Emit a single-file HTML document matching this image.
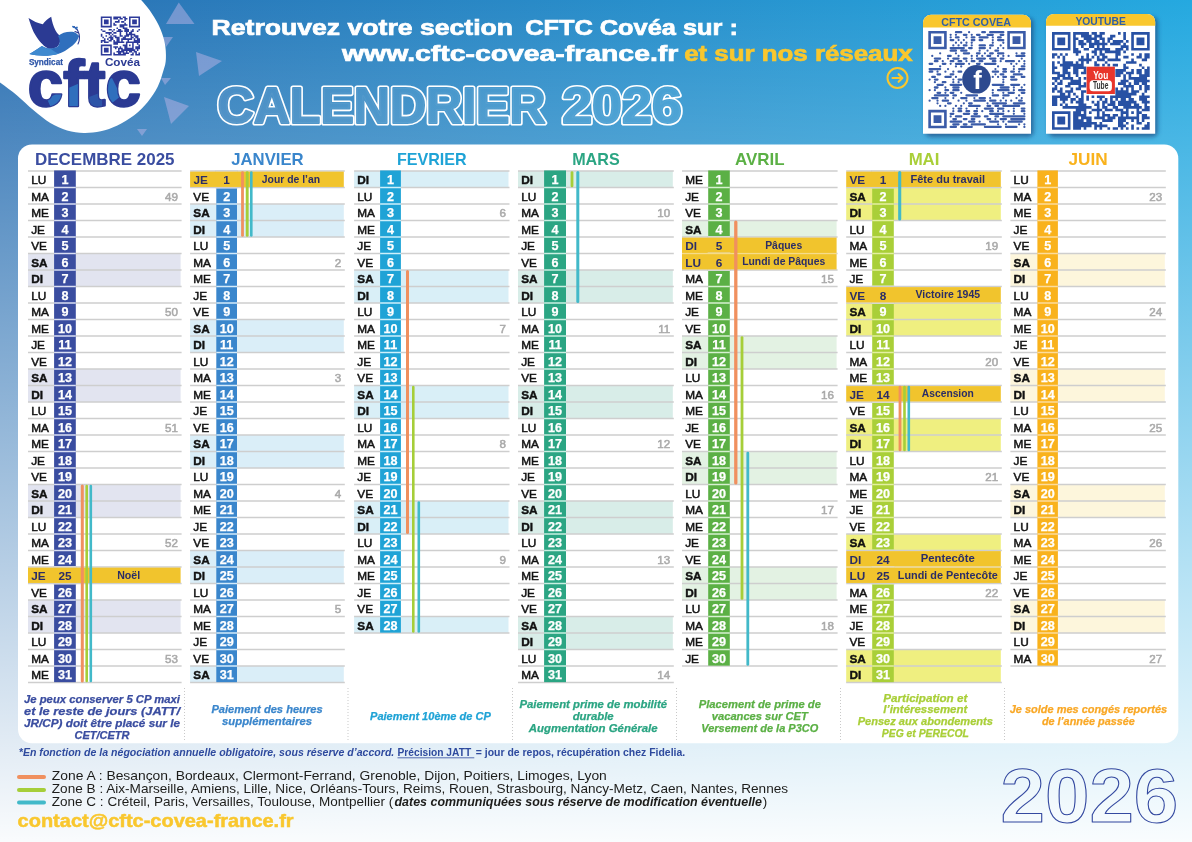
<!DOCTYPE html>
<html lang="fr"><head><meta charset="utf-8"><title>Calendrier 2026 - CFTC Covéa</title>
<style>html,body{margin:0;padding:0;background:#fff}svg{display:block}text{white-space:pre}</style></head>
<body>
<svg width="1192" height="842" viewBox="0 0 1192 842" font-family="'Liberation Sans', sans-serif">
<defs>
<linearGradient id="gh" x1="0" y1="0" x2="1" y2="0"><stop offset="0" stop-color="#2c71b3"/><stop offset="1" stop-color="#25a9e0"/></linearGradient>
<linearGradient id="gv" x1="0" y1="0" x2="0" y2="1"><stop offset="0" stop-color="#fff" stop-opacity="0"/><stop offset="1" stop-color="#fff" stop-opacity="0.975"/></linearGradient>
<linearGradient id="gc" x1="0" y1="0" x2="1" y2="0"><stop offset="0" stop-color="#2b3a93"/><stop offset="0.16" stop-color="#2b3a93"/><stop offset="0.2" stop-color="#2f6fbd"/><stop offset="0.3" stop-color="#2f6fbd"/><stop offset="0.34" stop-color="#2b3a93"/><stop offset="0.44" stop-color="#2b3a93"/><stop offset="0.48" stop-color="#2f6fbd"/><stop offset="0.56" stop-color="#2b3a93"/><stop offset="0.72" stop-color="#2b3a93"/><stop offset="0.76" stop-color="#2f6fbd"/><stop offset="0.84" stop-color="#2f6fbd"/><stop offset="0.88" stop-color="#2b3a93"/><stop offset="1" stop-color="#2b3a93"/></linearGradient>
<filter id="sh" x="-10%" y="-10%" width="125%" height="125%"><feGaussianBlur stdDeviation="2.2"/></filter>
</defs>
<rect width="1192" height="842" fill="url(#gh)"/>
<rect width="1192" height="842" fill="url(#gv)"/>
<polygon points="178.75,2.5 166,24 194.5,24" fill="#b9b4e6" fill-opacity="0.5"/>
<polygon points="196,52 222,61 199,76" fill="#b9b4e6" fill-opacity="0.5"/>
<polygon points="164,97 189,106 171,124" fill="#b9b4e6" fill-opacity="0.5"/>
<polygon points="137,129 147,129 142,136" fill="#b9b4e6" fill-opacity="0.5"/>
<polygon points="161,78 171,78 165,85" fill="#b9b4e6" fill-opacity="0.5"/>
<polygon points="163,37 173,37 166,47" fill="#b9b4e6" fill-opacity="0.5"/>
<path d="M0,0 L141.1,0 C143.9,3.3 146.6,5.8 149.5,10.0 C152.4,14.2 156.2,19.9 158.7,25.2 C161.2,30.5 163.4,36.4 164.6,42.0 C165.8,47.6 166.1,54.0 165.9,58.7 C165.7,63.4 165.0,65.3 163.6,70.0 C162.2,74.7 160.3,81.5 157.7,86.8 C155.0,92.1 151.6,97.2 147.7,101.9 C143.8,106.7 139.2,111.4 134.2,115.3 C129.1,119.2 123.0,122.8 117.4,125.4 C111.8,128.1 106.3,129.9 100.7,131.2 C95.1,132.4 89.5,133.0 83.9,132.9 C78.3,132.8 72.7,132.1 67.1,130.4 C61.5,128.7 55.9,126.2 50.3,122.9 C44.7,119.6 39.2,114.9 33.6,110.3 C28.0,105.7 22.4,99.8 16.8,95.2 C11.2,90.6 5.6,86.8 0.0,82.6 Z" fill="#fff"/>
<path d="M28.5,18.1 C33,21 38,23.5 42.8,24.3 C45,21 48,18.5 51.2,16.8 C52,22 53.5,26.5 55.4,30.2 C57,33 58.5,34.8 60.4,36.1 C61,41 59.5,45 57,47 C54,48.6 51,49 48.7,48.7 C45,47 42.5,44.5 40.3,42 C37.5,38.5 35.5,35.5 33.6,31.9 C31.5,27.5 30,23 28.5,18.1Z" fill="#2b3a93"/>
<path d="M58,36 C62,32.5 68,31 73.8,31.9 C76,32.8 78,34.3 79.2,36.1 C78.5,37.5 77.8,39 77.2,40.3 C75.5,43 73,45.5 70.5,47 C67,50 63,52.3 58.7,53.7 C49,56.5 38,56.2 29.4,54 C34,51.5 38,48.8 41.9,46.1 C47,49.5 53,48.5 57,47 C59.5,45 61,41 58,36Z" fill="#2f6fbd"/>
<path d="M29.4,54 C34,51.5 38,48.8 41.9,46.1 C45,48 48,49 51,49 C53,50.5 56,52.5 58.7,53.7 C49,56.5 38,56.2 29.4,54Z" fill="#3f8ad0"/>
<path d="M78,44 C80,40 80,35 77.5,30 M77.5,30 L74,26.5 M78.5,33 L75,31.5" stroke="#2b3a93" stroke-width="1.1" fill="none" stroke-linecap="round"/>
<ellipse cx="73.5" cy="27" rx="1.6" ry="1" fill="#2f6fbd" transform="rotate(35 73.5 27)"/><ellipse cx="76.5" cy="28" rx="1.6" ry="1" fill="#2f6fbd" transform="rotate(-50 76.5 28)"/>
<text x="28.90" y="65.10" font-size="8.6" fill="#2d55a8" font-weight="700" textLength="34.00" lengthAdjust="spacingAndGlyphs" stroke="#2d55a8" stroke-width="0.25">Syndicat</text>
<text x="104.90" y="66.30" font-size="11.8" fill="#2b3a93" font-weight="700" textLength="35.20" lengthAdjust="spacingAndGlyphs">Covéa</text>
<text x="27.80" y="106.40" font-size="64" fill="#2b3a93" font-weight="700" textLength="113.00" lengthAdjust="spacingAndGlyphs" stroke="#2b3a93" stroke-width="2.4" stroke-linejoin="round">cftc</text>
<clipPath id="cc"><text x="27.8" y="106.4" font-size="64" font-weight="700" textLength="113" lengthAdjust="spacingAndGlyphs" stroke="#000" stroke-width="2.4">cftc</text></clipPath>
<g clip-path="url(#cc)" fill="#2f6fbd"><polygon points="66,89 80,83 80,110 66,110"/><polygon points="47,99 63,90 63,110 52,110"/><polygon points="106,80 112,78 121,96 112,103 106,98"/><polygon points="89,97 102,92 102,110 89,110" fill="#2d55a8"/></g>
<path d="M100.80,16.40h10.98v1.57h-10.98zM113.34,16.40h7.84v1.57h-7.84zM122.75,16.40h3.14v1.57h-3.14zM129.02,16.40h10.98v1.57h-10.98zM100.80,17.97h1.57v1.57h-1.57zM110.21,17.97h1.57v1.57h-1.57zM113.34,17.97h4.70v1.57h-4.70zM119.62,17.97h3.14v1.57h-3.14zM124.32,17.97h3.14v1.57h-3.14zM129.02,17.97h1.57v1.57h-1.57zM138.43,17.97h1.57v1.57h-1.57zM100.80,19.54h1.57v1.57h-1.57zM103.94,19.54h4.70v1.57h-4.70zM110.21,19.54h1.57v1.57h-1.57zM118.05,19.54h1.57v1.57h-1.57zM124.32,19.54h1.57v1.57h-1.57zM129.02,19.54h1.57v1.57h-1.57zM132.16,19.54h4.70v1.57h-4.70zM138.43,19.54h1.57v1.57h-1.57zM100.80,21.10h1.57v1.57h-1.57zM103.94,21.10h4.70v1.57h-4.70zM110.21,21.10h1.57v1.57h-1.57zM114.91,21.10h4.70v1.57h-4.70zM121.18,21.10h3.14v1.57h-3.14zM129.02,21.10h1.57v1.57h-1.57zM132.16,21.10h4.70v1.57h-4.70zM138.43,21.10h1.57v1.57h-1.57zM100.80,22.67h1.57v1.57h-1.57zM103.94,22.67h4.70v1.57h-4.70zM110.21,22.67h1.57v1.57h-1.57zM113.34,22.67h1.57v1.57h-1.57zM124.32,22.67h1.57v1.57h-1.57zM129.02,22.67h1.57v1.57h-1.57zM132.16,22.67h4.70v1.57h-4.70zM138.43,22.67h1.57v1.57h-1.57zM100.80,24.24h1.57v1.57h-1.57zM110.21,24.24h1.57v1.57h-1.57zM113.34,24.24h3.14v1.57h-3.14zM119.62,24.24h7.84v1.57h-7.84zM129.02,24.24h1.57v1.57h-1.57zM138.43,24.24h1.57v1.57h-1.57zM100.80,25.81h10.98v1.57h-10.98zM119.62,25.81h4.70v1.57h-4.70zM129.02,25.81h10.98v1.57h-10.98zM116.48,27.38h1.57v1.57h-1.57zM122.75,27.38h4.70v1.57h-4.70zM100.80,28.94h1.57v1.57h-1.57zM108.64,28.94h3.14v1.57h-3.14zM113.34,28.94h1.57v1.57h-1.57zM118.05,28.94h3.14v1.57h-3.14zM124.32,28.94h4.70v1.57h-4.70zM132.16,28.94h1.57v1.57h-1.57zM138.43,28.94h1.57v1.57h-1.57zM102.37,30.51h3.14v1.57h-3.14zM111.78,30.51h1.57v1.57h-1.57zM116.48,30.51h6.27v1.57h-6.27zM124.32,30.51h4.70v1.57h-4.70zM130.59,30.51h3.14v1.57h-3.14zM136.86,30.51h1.57v1.57h-1.57zM105.50,32.08h6.27v1.57h-6.27zM113.34,32.08h3.14v1.57h-3.14zM119.62,32.08h1.57v1.57h-1.57zM125.89,32.08h1.57v1.57h-1.57zM129.02,32.08h3.14v1.57h-3.14zM100.80,33.65h1.57v1.57h-1.57zM108.64,33.65h1.57v1.57h-1.57zM111.78,33.65h1.57v1.57h-1.57zM119.62,33.65h1.57v1.57h-1.57zM125.89,33.65h9.41v1.57h-9.41zM100.80,35.22h1.57v1.57h-1.57zM105.50,35.22h1.57v1.57h-1.57zM110.21,35.22h1.57v1.57h-1.57zM113.34,35.22h3.14v1.57h-3.14zM119.62,35.22h3.14v1.57h-3.14zM124.32,35.22h4.70v1.57h-4.70zM130.59,35.22h1.57v1.57h-1.57zM133.73,35.22h4.70v1.57h-4.70zM102.37,36.78h1.57v1.57h-1.57zM108.64,36.78h4.70v1.57h-4.70zM114.91,36.78h4.70v1.57h-4.70zM122.75,36.78h3.14v1.57h-3.14zM130.59,36.78h3.14v1.57h-3.14zM135.30,36.78h3.14v1.57h-3.14zM103.94,38.35h1.57v1.57h-1.57zM107.07,38.35h1.57v1.57h-1.57zM110.21,38.35h3.14v1.57h-3.14zM116.48,38.35h3.14v1.57h-3.14zM121.18,38.35h10.98v1.57h-10.98zM133.73,38.35h1.57v1.57h-1.57zM136.86,38.35h3.14v1.57h-3.14zM100.80,39.92h4.70v1.57h-4.70zM108.64,39.92h3.14v1.57h-3.14zM113.34,39.92h1.57v1.57h-1.57zM116.48,39.92h3.14v1.57h-3.14zM121.18,39.92h1.57v1.57h-1.57zM127.46,39.92h1.57v1.57h-1.57zM133.73,39.92h6.27v1.57h-6.27zM100.80,41.49h1.57v1.57h-1.57zM103.94,41.49h4.70v1.57h-4.70zM113.34,41.49h10.98v1.57h-10.98zM125.89,41.49h14.11v1.57h-14.11zM113.34,43.06h4.70v1.57h-4.70zM125.89,43.06h1.57v1.57h-1.57zM132.16,43.06h1.57v1.57h-1.57zM136.86,43.06h1.57v1.57h-1.57zM100.80,44.62h10.98v1.57h-10.98zM122.75,44.62h4.70v1.57h-4.70zM129.02,44.62h1.57v1.57h-1.57zM132.16,44.62h1.57v1.57h-1.57zM138.43,44.62h1.57v1.57h-1.57zM100.80,46.19h1.57v1.57h-1.57zM110.21,46.19h1.57v1.57h-1.57zM113.34,46.19h4.70v1.57h-4.70zM119.62,46.19h1.57v1.57h-1.57zM124.32,46.19h3.14v1.57h-3.14zM132.16,46.19h1.57v1.57h-1.57zM135.30,46.19h4.70v1.57h-4.70zM100.80,47.76h1.57v1.57h-1.57zM103.94,47.76h4.70v1.57h-4.70zM110.21,47.76h1.57v1.57h-1.57zM114.91,47.76h1.57v1.57h-1.57zM118.05,47.76h4.70v1.57h-4.70zM124.32,47.76h9.41v1.57h-9.41zM135.30,47.76h4.70v1.57h-4.70zM100.80,49.33h1.57v1.57h-1.57zM103.94,49.33h4.70v1.57h-4.70zM110.21,49.33h1.57v1.57h-1.57zM118.05,49.33h1.57v1.57h-1.57zM121.18,49.33h14.11v1.57h-14.11zM136.86,49.33h1.57v1.57h-1.57zM100.80,50.90h1.57v1.57h-1.57zM103.94,50.90h4.70v1.57h-4.70zM110.21,50.90h1.57v1.57h-1.57zM116.48,50.90h7.84v1.57h-7.84zM125.89,50.90h1.57v1.57h-1.57zM129.02,50.90h3.14v1.57h-3.14zM133.73,50.90h3.14v1.57h-3.14zM100.80,52.46h1.57v1.57h-1.57zM110.21,52.46h1.57v1.57h-1.57zM113.34,52.46h1.57v1.57h-1.57zM118.05,52.46h3.14v1.57h-3.14zM122.75,52.46h6.27v1.57h-6.27zM132.16,52.46h1.57v1.57h-1.57zM135.30,52.46h1.57v1.57h-1.57zM138.43,52.46h1.57v1.57h-1.57zM100.80,54.03h10.98v1.57h-10.98zM113.34,54.03h12.54v1.57h-12.54zM130.59,54.03h3.14v1.57h-3.14zM135.30,54.03h4.70v1.57h-4.70z" fill="#2d3a9a"/>
<text x="211.60" y="35.00" font-size="22" fill="#fff" font-weight="700" textLength="301.50" lengthAdjust="spacingAndGlyphs" stroke="#fff" stroke-width="0.7">Retrouvez votre section</text>
<text x="525.20" y="35.00" font-size="22" fill="#fff" font-weight="700" textLength="212.70" lengthAdjust="spacingAndGlyphs" stroke="#fff" stroke-width="0.7">CFTC Covéa sur :</text>
<text x="342.00" y="61.20" font-size="22" fill="#fff" font-weight="700" textLength="336.30" lengthAdjust="spacingAndGlyphs" stroke="#fff" stroke-width="0.7">www.cftc-covea-france.fr</text>
<text x="684.20" y="61.20" font-size="22" fill="#f9c72e" font-weight="700" textLength="228.50" lengthAdjust="spacingAndGlyphs" stroke="#f9c72e" stroke-width="0.7">et sur nos réseaux</text>
<mask id="mc1" maskUnits="userSpaceOnUse" x="200" y="70" width="360" height="70"><text x="217.6" y="123.2" font-size="49.5" font-weight="700" textLength="328.0" lengthAdjust="spacingAndGlyphs" stroke-linejoin="round" fill="#fff" stroke="#fff" stroke-width="5.2">CALENDRIER</text><text x="217.6" y="123.2" font-size="49.5" font-weight="700" textLength="328.0" lengthAdjust="spacingAndGlyphs" stroke-linejoin="round" fill="#000" stroke="#000" stroke-width="2">CALENDRIER</text></mask>
<text x="217.6" y="123.2" font-size="49.5" font-weight="700" textLength="328.0" lengthAdjust="spacingAndGlyphs" stroke-linejoin="round" fill="#fff" fill-opacity="0.05" stroke="#fff" stroke-opacity="0.05" stroke-width="2">CALENDRIER</text>
<rect x="200" y="70" width="360" height="70" fill="#fff" mask="url(#mc1)"/>
<mask id="mc2" maskUnits="userSpaceOnUse" x="550" y="70" width="150" height="70"><text x="562.2" y="123.2" font-size="49.5" font-weight="700" textLength="119.6" lengthAdjust="spacingAndGlyphs" stroke-linejoin="round" fill="#fff" stroke="#fff" stroke-width="5.2">2026</text><text x="562.2" y="123.2" font-size="49.5" font-weight="700" textLength="119.6" lengthAdjust="spacingAndGlyphs" stroke-linejoin="round" fill="#000" stroke="#000" stroke-width="2">2026</text></mask>
<text x="562.2" y="123.2" font-size="49.5" font-weight="700" textLength="119.6" lengthAdjust="spacingAndGlyphs" stroke-linejoin="round" fill="#fff" fill-opacity="0.05" stroke="#fff" stroke-opacity="0.05" stroke-width="2">2026</text>
<rect x="550" y="70" width="150" height="70" fill="#fff" mask="url(#mc2)"/>
<circle cx="897.5" cy="78" r="10" fill="none" stroke="#f9c72e" stroke-width="2"/>
<path d="M892.5,78 H902 M898.6,74.2 L902.4,78 L898.6,81.8" fill="none" stroke="#f9c72e" stroke-width="2.1" stroke-linecap="round" stroke-linejoin="round"/>
<rect x="925.5" y="17.8" width="108" height="119.00000000000001" rx="5" fill="#174a80" fill-opacity="0.7" filter="url(#sh)"/>
<path d="M923,133.8 V22.8 a8,8 0 0 1 8,-8 H1023 a8,8 0 0 1 8,8 V133.8 Z" fill="#fff"/>
<path d="M923,27.6 V22.8 a8,8 0 0 1 8,-8 H1023 a8,8 0 0 1 8,8 V27.6 Z" fill="#f9c72e"/>
<text x="941.20" y="25.80" font-size="11.2" fill="#2f5fa5" font-weight="700" textLength="69.80" lengthAdjust="spacingAndGlyphs">CFTC COVEA</text>
<rect x="1048.5" y="17" width="109.20000000000005" height="119.80000000000001" rx="5" fill="#174a80" fill-opacity="0.7" filter="url(#sh)"/>
<path d="M1046,133.8 V22 a8,8 0 0 1 8,-8 H1147.2 a8,8 0 0 1 8,8 V133.8 Z" fill="#fff"/>
<path d="M1046,25.8 V22 a8,8 0 0 1 8,-8 H1147.2 a8,8 0 0 1 8,8 V25.8 Z" fill="#f9c72e"/>
<text x="1075.40" y="24.90" font-size="11.2" fill="#2f5fa5" font-weight="700" textLength="50.40" lengthAdjust="spacingAndGlyphs">YOUTUBE</text>
<path d="M928.30,30.90h18.43v2.63h-18.43zM1007.27,30.90h18.43v2.63h-18.43zM928.30,33.53h2.63v2.63h-2.63zM944.09,33.53h2.63v2.63h-2.63zM1007.27,33.53h2.63v2.63h-2.63zM1023.07,33.53h2.63v2.63h-2.63zM928.30,36.16h2.63v2.63h-2.63zM933.56,36.16h7.90v2.63h-7.90zM944.09,36.16h2.63v2.63h-2.63zM1007.27,36.16h2.63v2.63h-2.63zM1012.54,36.16h7.90v2.63h-7.90zM1023.07,36.16h2.63v2.63h-2.63zM928.30,38.80h2.63v2.63h-2.63zM933.56,38.80h7.90v2.63h-7.90zM944.09,38.80h2.63v2.63h-2.63zM1007.27,38.80h2.63v2.63h-2.63zM1012.54,38.80h7.90v2.63h-7.90zM1023.07,38.80h2.63v2.63h-2.63zM928.30,41.43h2.63v2.63h-2.63zM933.56,41.43h7.90v2.63h-7.90zM944.09,41.43h2.63v2.63h-2.63zM1007.27,41.43h2.63v2.63h-2.63zM1012.54,41.43h7.90v2.63h-7.90zM1023.07,41.43h2.63v2.63h-2.63zM928.30,44.06h2.63v2.63h-2.63zM944.09,44.06h2.63v2.63h-2.63zM1007.27,44.06h2.63v2.63h-2.63zM1023.07,44.06h2.63v2.63h-2.63zM928.30,46.69h18.43v2.63h-18.43zM1007.27,46.69h18.43v2.63h-18.43zM928.30,109.87h18.43v2.63h-18.43zM928.30,112.51h2.63v2.63h-2.63zM944.09,112.51h2.63v2.63h-2.63zM928.30,115.14h2.63v2.63h-2.63zM933.56,115.14h7.90v2.63h-7.90zM944.09,115.14h2.63v2.63h-2.63zM928.30,117.77h2.63v2.63h-2.63zM933.56,117.77h7.90v2.63h-7.90zM944.09,117.77h2.63v2.63h-2.63zM928.30,120.40h2.63v2.63h-2.63zM933.56,120.40h7.90v2.63h-7.90zM944.09,120.40h2.63v2.63h-2.63zM928.30,123.04h2.63v2.63h-2.63zM944.09,123.04h2.63v2.63h-2.63zM928.30,125.67h18.43v2.63h-18.43z" fill="#3a5ba8"/>
<path d="M955.94,32.22h5.27M969.10,32.22h0.01M982.26,32.22h2.64M990.16,32.22h13.17M950.68,34.85h0.01M955.94,34.85h0.01M963.84,34.85h2.64M971.74,34.85h0.01M977.00,34.85h2.64M987.53,34.85h5.27M1000.69,34.85h2.64M950.68,37.48h0.01M955.94,37.48h2.64M966.47,37.48h0.01M971.74,37.48h2.64M979.63,37.48h7.91M992.79,37.48h0.01M998.06,37.48h2.64M950.68,40.11h2.64M958.57,40.11h0.01M963.84,40.11h0.01M971.74,40.11h2.64M979.63,40.11h2.64M992.79,40.11h0.01M998.06,40.11h5.27M955.94,42.75h0.01M961.21,42.75h0.01M966.47,42.75h0.01M971.74,42.75h0.01M992.79,42.75h0.01M1003.32,42.75h0.01M953.31,45.38h0.01M958.57,45.38h0.01M963.84,45.38h2.64M971.74,45.38h0.01M979.63,45.38h5.27M990.16,45.38h2.64M1000.69,45.38h0.01M950.68,48.01h13.17M969.10,48.01h2.64M979.63,48.01h5.27M990.16,48.01h0.01M998.06,48.01h0.01M1003.32,48.01h0.01M950.68,50.64h5.27M961.21,50.64h5.27M979.63,50.64h0.01M987.53,50.64h0.01M995.43,50.64h2.64M940.15,53.28h0.01M955.94,53.28h0.01M963.84,53.28h5.27M977.00,53.28h2.64M984.90,53.28h0.01M990.16,53.28h2.64M998.06,53.28h5.27M1016.49,53.28h0.01M1021.75,53.28h2.64M932.25,55.91h0.01M948.04,55.91h2.64M958.57,55.91h0.01M971.74,55.91h0.01M977.00,55.91h0.01M982.26,55.91h0.01M987.53,55.91h2.64M998.06,55.91h0.01M1003.32,55.91h0.01M1008.59,55.91h0.01M1016.49,55.91h7.91M934.88,58.54h5.27M948.04,58.54h0.01M953.31,58.54h5.27M963.84,58.54h2.64M971.74,58.54h0.01M977.00,58.54h7.91M990.16,58.54h5.27M1000.69,58.54h2.64M1021.75,58.54h0.01M934.88,61.17h2.64M942.78,61.17h0.01M950.68,61.17h2.64M958.57,61.17h2.64M966.47,61.17h0.01M971.74,61.17h2.64M979.63,61.17h2.64M992.79,61.17h2.64M1000.69,61.17h0.01M1005.96,61.17h7.91M1019.12,61.17h0.01M1024.38,61.17h0.01M929.62,63.81h2.64M942.78,63.81h2.64M950.68,63.81h0.01M955.94,63.81h7.91M969.10,63.81h0.01M977.00,63.81h2.64M984.90,63.81h10.54M1011.22,63.81h0.01M1016.49,63.81h0.01M1024.38,63.81h0.01M940.15,66.44h0.01M955.94,66.44h0.01M961.21,66.44h0.01M998.06,66.44h0.01M1013.85,66.44h0.01M1021.75,66.44h2.64M929.62,69.07h10.54M948.04,69.07h0.01M995.43,69.07h0.01M1003.32,69.07h2.64M1013.85,69.07h0.01M1019.12,69.07h5.27M929.62,71.70h2.64M937.51,71.70h0.01M945.41,71.70h0.01M953.31,71.70h0.01M958.57,71.70h2.64M992.79,71.70h5.27M1003.32,71.70h2.64M1011.22,71.70h2.64M1019.12,71.70h0.01M937.51,74.34h2.64M950.68,74.34h2.64M995.43,74.34h0.01M1000.69,74.34h2.64M1013.85,74.34h7.91M932.25,76.97h2.64M945.41,76.97h5.27M955.94,76.97h0.01M992.79,76.97h0.01M998.06,76.97h0.01M1003.32,76.97h2.64M1011.22,76.97h2.64M1021.75,76.97h2.64M929.62,79.60h0.01M934.88,79.60h2.64M953.31,79.60h0.01M958.57,79.60h2.64M1003.32,79.60h0.01M1011.22,79.60h5.27M934.88,82.23h0.01M942.78,82.23h2.64M953.31,82.23h0.01M958.57,82.23h0.01M1003.32,82.23h0.01M937.51,84.86h5.27M950.68,84.86h10.54M992.79,84.86h10.54M1011.22,84.86h7.91M1024.38,84.86h0.01M934.88,87.50h2.64M945.41,87.50h0.01M953.31,87.50h5.27M1000.69,87.50h7.91M1013.85,87.50h0.01M1021.75,87.50h0.01M929.62,90.13h0.01M934.88,90.13h0.01M945.41,90.13h2.64M953.31,90.13h5.27M992.79,90.13h0.01M998.06,90.13h10.54M1013.85,90.13h0.01M1019.12,90.13h5.27M937.51,92.76h2.64M945.41,92.76h0.01M950.68,92.76h2.64M961.21,92.76h0.01M992.79,92.76h0.01M1003.32,92.76h0.01M1008.59,92.76h5.27M1021.75,92.76h2.64M934.88,95.39h13.17M953.31,95.39h2.64M966.47,95.39h10.54M992.79,95.39h5.27M1003.32,95.39h5.27M1019.12,95.39h0.01M932.25,98.03h5.27M945.41,98.03h0.01M953.31,98.03h0.01M961.21,98.03h5.27M974.37,98.03h0.01M979.63,98.03h5.27M990.16,98.03h0.01M1003.32,98.03h0.01M1016.49,98.03h0.01M1021.75,98.03h0.01M929.62,100.66h0.01M937.51,100.66h0.01M942.78,100.66h5.27M958.57,100.66h0.01M966.47,100.66h0.01M974.37,100.66h10.54M990.16,100.66h5.27M1000.69,100.66h0.01M1005.96,100.66h0.01M1011.22,100.66h0.01M1019.12,100.66h2.64M937.51,103.29h0.01M948.04,103.29h2.64M963.84,103.29h0.01M969.10,103.29h2.64M987.53,103.29h0.01M992.79,103.29h13.17M1013.85,103.29h10.54M940.15,105.92h0.01M945.41,105.92h0.01M955.94,105.92h0.01M961.21,105.92h0.01M969.10,105.92h10.54M987.53,105.92h2.64M995.43,105.92h2.64M1003.32,105.92h15.80M953.31,108.56h0.01M958.57,108.56h2.64M966.47,108.56h0.01M977.00,108.56h0.01M984.90,108.56h7.91M998.06,108.56h5.27M1013.85,108.56h0.01M1021.75,108.56h2.64M953.31,111.19h0.01M958.57,111.19h2.64M966.47,111.19h2.64M974.37,111.19h2.64M982.26,111.19h0.01M990.16,111.19h2.64M998.06,111.19h0.01M1003.32,111.19h0.01M1008.59,111.19h0.01M1013.85,111.19h0.01M1021.75,111.19h2.64M950.68,113.82h2.64M963.84,113.82h5.27M974.37,113.82h2.64M990.16,113.82h13.17M1013.85,113.82h0.01M1024.38,113.82h0.01M950.68,116.45h0.01M955.94,116.45h5.27M971.74,116.45h7.91M984.90,116.45h2.64M995.43,116.45h2.64M1003.32,116.45h21.07M953.31,119.09h2.64M963.84,119.09h2.64M971.74,119.09h2.64M987.53,119.09h2.64M995.43,119.09h0.01M1000.69,119.09h5.27M1011.22,119.09h13.17M950.68,121.72h10.54M969.10,121.72h5.27M979.63,121.72h0.01M990.16,121.72h7.91M1003.32,121.72h0.01M1008.59,121.72h13.17M953.31,124.35h5.27M963.84,124.35h2.64M971.74,124.35h13.17M998.06,124.35h0.01M1005.96,124.35h0.01M1019.12,124.35h0.01M1024.38,124.35h0.01M950.68,126.98h5.27M961.21,126.98h10.54M984.90,126.98h15.80M1005.96,126.98h10.54M1024.38,126.98h0.01" stroke="#3a5ba8" stroke-width="2.26" stroke-linecap="round" fill="none"/>
<circle cx="976.5" cy="79.3" r="14.3" fill="#2d4a8f"/>
<text x="977.60" y="88.70" font-size="25.5" fill="#fff" font-weight="700" text-anchor="middle">f</text>
<path d="M1052.00,32.10h18.48v2.64h-18.48zM1073.12,32.10h15.84v2.64h-15.84zM1091.61,32.10h5.28v2.64h-5.28zM1099.53,32.10h5.28v2.64h-5.28zM1118.01,32.10h2.64v2.64h-2.64zM1123.29,32.10h2.64v2.64h-2.64zM1131.22,32.10h18.48v2.64h-18.48zM1052.00,34.74h2.64v2.64h-2.64zM1067.84,34.74h2.64v2.64h-2.64zM1073.12,34.74h2.64v2.64h-2.64zM1081.05,34.74h10.56v2.64h-10.56zM1094.25,34.74h7.92v2.64h-7.92zM1110.09,34.74h5.28v2.64h-5.28zM1123.29,34.74h2.64v2.64h-2.64zM1131.22,34.74h2.64v2.64h-2.64zM1147.06,34.74h2.64v2.64h-2.64zM1052.00,37.38h2.64v2.64h-2.64zM1057.28,37.38h7.92v2.64h-7.92zM1067.84,37.38h2.64v2.64h-2.64zM1073.12,37.38h5.28v2.64h-5.28zM1083.69,37.38h13.20v2.64h-13.20zM1099.53,37.38h5.28v2.64h-5.28zM1107.45,37.38h5.28v2.64h-5.28zM1123.29,37.38h2.64v2.64h-2.64zM1131.22,37.38h2.64v2.64h-2.64zM1136.50,37.38h7.92v2.64h-7.92zM1147.06,37.38h2.64v2.64h-2.64zM1052.00,40.02h2.64v2.64h-2.64zM1057.28,40.02h7.92v2.64h-7.92zM1067.84,40.02h2.64v2.64h-2.64zM1073.12,40.02h2.64v2.64h-2.64zM1078.41,40.02h5.28v2.64h-5.28zM1086.33,40.02h5.28v2.64h-5.28zM1094.25,40.02h5.28v2.64h-5.28zM1102.17,40.02h2.64v2.64h-2.64zM1107.45,40.02h2.64v2.64h-2.64zM1112.73,40.02h10.56v2.64h-10.56zM1125.94,40.02h2.64v2.64h-2.64zM1131.22,40.02h2.64v2.64h-2.64zM1136.50,40.02h7.92v2.64h-7.92zM1147.06,40.02h2.64v2.64h-2.64zM1052.00,42.66h2.64v2.64h-2.64zM1057.28,42.66h7.92v2.64h-7.92zM1067.84,42.66h2.64v2.64h-2.64zM1073.12,42.66h2.64v2.64h-2.64zM1078.41,42.66h7.92v2.64h-7.92zM1088.97,42.66h18.48v2.64h-18.48zM1110.09,42.66h10.56v2.64h-10.56zM1123.29,42.66h2.64v2.64h-2.64zM1131.22,42.66h2.64v2.64h-2.64zM1136.50,42.66h7.92v2.64h-7.92zM1147.06,42.66h2.64v2.64h-2.64zM1052.00,45.30h2.64v2.64h-2.64zM1067.84,45.30h2.64v2.64h-2.64zM1073.12,45.30h2.64v2.64h-2.64zM1081.05,45.30h2.64v2.64h-2.64zM1088.97,45.30h5.28v2.64h-5.28zM1096.89,45.30h2.64v2.64h-2.64zM1102.17,45.30h2.64v2.64h-2.64zM1120.65,45.30h7.92v2.64h-7.92zM1131.22,45.30h2.64v2.64h-2.64zM1147.06,45.30h2.64v2.64h-2.64zM1052.00,47.94h18.48v2.64h-18.48zM1073.12,47.94h5.28v2.64h-5.28zM1083.69,47.94h5.28v2.64h-5.28zM1094.25,47.94h15.84v2.64h-15.84zM1115.37,47.94h7.92v2.64h-7.92zM1125.94,47.94h2.64v2.64h-2.64zM1131.22,47.94h18.48v2.64h-18.48zM1073.12,50.58h7.92v2.64h-7.92zM1091.61,50.58h5.28v2.64h-5.28zM1099.53,50.58h2.64v2.64h-2.64zM1104.81,50.58h15.84v2.64h-15.84zM1123.29,50.58h2.64v2.64h-2.64zM1052.00,53.22h5.28v2.64h-5.28zM1059.92,53.22h2.64v2.64h-2.64zM1065.20,53.22h2.64v2.64h-2.64zM1075.76,53.22h2.64v2.64h-2.64zM1086.33,53.22h2.64v2.64h-2.64zM1094.25,53.22h2.64v2.64h-2.64zM1099.53,53.22h5.28v2.64h-5.28zM1115.37,53.22h5.28v2.64h-5.28zM1131.22,53.22h2.64v2.64h-2.64zM1139.14,53.22h2.64v2.64h-2.64zM1144.42,53.22h5.28v2.64h-5.28zM1052.00,55.86h2.64v2.64h-2.64zM1057.28,55.86h2.64v2.64h-2.64zM1062.56,55.86h2.64v2.64h-2.64zM1081.05,55.86h2.64v2.64h-2.64zM1086.33,55.86h2.64v2.64h-2.64zM1091.61,55.86h2.64v2.64h-2.64zM1096.89,55.86h2.64v2.64h-2.64zM1102.17,55.86h5.28v2.64h-5.28zM1115.37,55.86h2.64v2.64h-2.64zM1123.29,55.86h5.28v2.64h-5.28zM1136.50,55.86h5.28v2.64h-5.28zM1144.42,55.86h5.28v2.64h-5.28zM1062.56,58.51h2.64v2.64h-2.64zM1078.41,58.51h13.20v2.64h-13.20zM1096.89,58.51h7.92v2.64h-7.92zM1107.45,58.51h13.20v2.64h-13.20zM1131.22,58.51h2.64v2.64h-2.64zM1141.78,58.51h5.28v2.64h-5.28zM1052.00,61.15h2.64v2.64h-2.64zM1057.28,61.15h2.64v2.64h-2.64zM1062.56,61.15h10.56v2.64h-10.56zM1075.76,61.15h2.64v2.64h-2.64zM1081.05,61.15h2.64v2.64h-2.64zM1086.33,61.15h2.64v2.64h-2.64zM1094.25,61.15h2.64v2.64h-2.64zM1104.81,61.15h2.64v2.64h-2.64zM1125.94,61.15h10.56v2.64h-10.56zM1052.00,63.79h2.64v2.64h-2.64zM1059.92,63.79h23.76v2.64h-23.76zM1094.25,63.79h5.28v2.64h-5.28zM1102.17,63.79h2.64v2.64h-2.64zM1107.45,63.79h2.64v2.64h-2.64zM1112.73,63.79h5.28v2.64h-5.28zM1123.29,63.79h2.64v2.64h-2.64zM1139.14,63.79h2.64v2.64h-2.64zM1052.00,66.43h5.28v2.64h-5.28zM1062.56,66.43h7.92v2.64h-7.92zM1073.12,66.43h13.20v2.64h-13.20zM1123.29,66.43h5.28v2.64h-5.28zM1141.78,66.43h2.64v2.64h-2.64zM1147.06,66.43h2.64v2.64h-2.64zM1052.00,69.07h2.64v2.64h-2.64zM1062.56,69.07h5.28v2.64h-5.28zM1073.12,69.07h5.28v2.64h-5.28zM1083.69,69.07h2.64v2.64h-2.64zM1115.37,69.07h10.56v2.64h-10.56zM1131.22,69.07h2.64v2.64h-2.64zM1136.50,69.07h5.28v2.64h-5.28zM1144.42,69.07h5.28v2.64h-5.28zM1052.00,71.71h7.92v2.64h-7.92zM1062.56,71.71h7.92v2.64h-7.92zM1073.12,71.71h5.28v2.64h-5.28zM1081.05,71.71h5.28v2.64h-5.28zM1115.37,71.71h7.92v2.64h-7.92zM1125.94,71.71h7.92v2.64h-7.92zM1136.50,71.71h5.28v2.64h-5.28zM1144.42,71.71h5.28v2.64h-5.28zM1057.28,74.35h7.92v2.64h-7.92zM1067.84,74.35h2.64v2.64h-2.64zM1075.76,74.35h2.64v2.64h-2.64zM1115.37,74.35h5.28v2.64h-5.28zM1123.29,74.35h2.64v2.64h-2.64zM1128.58,74.35h2.64v2.64h-2.64zM1139.14,74.35h10.56v2.64h-10.56zM1052.00,76.99h7.92v2.64h-7.92zM1062.56,76.99h10.56v2.64h-10.56zM1078.41,76.99h2.64v2.64h-2.64zM1083.69,76.99h2.64v2.64h-2.64zM1123.29,76.99h2.64v2.64h-2.64zM1128.58,76.99h18.48v2.64h-18.48zM1054.64,79.63h2.64v2.64h-2.64zM1059.92,79.63h2.64v2.64h-2.64zM1070.48,79.63h10.56v2.64h-10.56zM1120.65,79.63h7.92v2.64h-7.92zM1133.86,79.63h15.84v2.64h-15.84zM1052.00,82.27h2.64v2.64h-2.64zM1057.28,82.27h5.28v2.64h-5.28zM1067.84,82.27h13.20v2.64h-13.20zM1083.69,82.27h2.64v2.64h-2.64zM1118.01,82.27h7.92v2.64h-7.92zM1128.58,82.27h2.64v2.64h-2.64zM1133.86,82.27h5.28v2.64h-5.28zM1141.78,82.27h5.28v2.64h-5.28zM1054.64,84.91h2.64v2.64h-2.64zM1065.20,84.91h5.28v2.64h-5.28zM1078.41,84.91h7.92v2.64h-7.92zM1123.29,84.91h10.56v2.64h-10.56zM1139.14,84.91h2.64v2.64h-2.64zM1144.42,84.91h5.28v2.64h-5.28zM1052.00,87.55h5.28v2.64h-5.28zM1059.92,87.55h2.64v2.64h-2.64zM1070.48,87.55h2.64v2.64h-2.64zM1075.76,87.55h5.28v2.64h-5.28zM1115.37,87.55h2.64v2.64h-2.64zM1120.65,87.55h2.64v2.64h-2.64zM1125.94,87.55h2.64v2.64h-2.64zM1131.22,87.55h2.64v2.64h-2.64zM1139.14,87.55h2.64v2.64h-2.64zM1144.42,87.55h5.28v2.64h-5.28zM1052.00,90.19h2.64v2.64h-2.64zM1057.28,90.19h5.28v2.64h-5.28zM1065.20,90.19h7.92v2.64h-7.92zM1081.05,90.19h5.28v2.64h-5.28zM1115.37,90.19h13.20v2.64h-13.20zM1131.22,90.19h7.92v2.64h-7.92zM1144.42,90.19h2.64v2.64h-2.64zM1059.92,92.83h5.28v2.64h-5.28zM1067.84,92.83h2.64v2.64h-2.64zM1073.12,92.83h2.64v2.64h-2.64zM1081.05,92.83h2.64v2.64h-2.64zM1115.37,92.83h21.12v2.64h-21.12zM1141.78,92.83h2.64v2.64h-2.64zM1052.00,95.47h18.48v2.64h-18.48zM1075.76,95.47h2.64v2.64h-2.64zM1081.05,95.47h2.64v2.64h-2.64zM1086.33,95.47h2.64v2.64h-2.64zM1091.61,95.47h2.64v2.64h-2.64zM1096.89,95.47h7.92v2.64h-7.92zM1110.09,95.47h21.12v2.64h-21.12zM1139.14,95.47h10.56v2.64h-10.56zM1052.00,98.11h5.28v2.64h-5.28zM1059.92,98.11h7.92v2.64h-7.92zM1070.48,98.11h5.28v2.64h-5.28zM1078.41,98.11h5.28v2.64h-5.28zM1086.33,98.11h2.64v2.64h-2.64zM1099.53,98.11h2.64v2.64h-2.64zM1104.81,98.11h2.64v2.64h-2.64zM1110.09,98.11h2.64v2.64h-2.64zM1115.37,98.11h2.64v2.64h-2.64zM1120.65,98.11h5.28v2.64h-5.28zM1128.58,98.11h5.28v2.64h-5.28zM1139.14,98.11h7.92v2.64h-7.92zM1052.00,100.75h5.28v2.64h-5.28zM1062.56,100.75h2.64v2.64h-2.64zM1070.48,100.75h2.64v2.64h-2.64zM1075.76,100.75h7.92v2.64h-7.92zM1091.61,100.75h2.64v2.64h-2.64zM1096.89,100.75h2.64v2.64h-2.64zM1102.17,100.75h5.28v2.64h-5.28zM1110.09,100.75h5.28v2.64h-5.28zM1118.01,100.75h18.48v2.64h-18.48zM1141.78,100.75h7.92v2.64h-7.92zM1052.00,103.39h5.28v2.64h-5.28zM1059.92,103.39h2.64v2.64h-2.64zM1065.20,103.39h2.64v2.64h-2.64zM1078.41,103.39h7.92v2.64h-7.92zM1094.25,103.39h5.28v2.64h-5.28zM1102.17,103.39h2.64v2.64h-2.64zM1107.45,103.39h7.92v2.64h-7.92zM1118.01,103.39h13.20v2.64h-13.20zM1133.86,103.39h5.28v2.64h-5.28zM1144.42,103.39h2.64v2.64h-2.64zM1062.56,106.04h29.05v2.64h-29.05zM1096.89,106.04h2.64v2.64h-2.64zM1102.17,106.04h5.28v2.64h-5.28zM1112.73,106.04h5.28v2.64h-5.28zM1123.29,106.04h18.48v2.64h-18.48zM1144.42,106.04h5.28v2.64h-5.28zM1075.76,108.68h10.56v2.64h-10.56zM1091.61,108.68h10.56v2.64h-10.56zM1104.81,108.68h7.92v2.64h-7.92zM1115.37,108.68h7.92v2.64h-7.92zM1125.94,108.68h2.64v2.64h-2.64zM1136.50,108.68h2.64v2.64h-2.64zM1141.78,108.68h7.92v2.64h-7.92zM1052.00,111.32h18.48v2.64h-18.48zM1073.12,111.32h7.92v2.64h-7.92zM1083.69,111.32h2.64v2.64h-2.64zM1088.97,111.32h2.64v2.64h-2.64zM1096.89,111.32h2.64v2.64h-2.64zM1102.17,111.32h2.64v2.64h-2.64zM1120.65,111.32h7.92v2.64h-7.92zM1131.22,111.32h2.64v2.64h-2.64zM1136.50,111.32h5.28v2.64h-5.28zM1052.00,113.96h2.64v2.64h-2.64zM1067.84,113.96h2.64v2.64h-2.64zM1073.12,113.96h13.20v2.64h-13.20zM1096.89,113.96h2.64v2.64h-2.64zM1102.17,113.96h7.92v2.64h-7.92zM1112.73,113.96h5.28v2.64h-5.28zM1120.65,113.96h2.64v2.64h-2.64zM1125.94,113.96h2.64v2.64h-2.64zM1136.50,113.96h2.64v2.64h-2.64zM1141.78,113.96h5.28v2.64h-5.28zM1052.00,116.60h2.64v2.64h-2.64zM1057.28,116.60h7.92v2.64h-7.92zM1067.84,116.60h2.64v2.64h-2.64zM1073.12,116.60h5.28v2.64h-5.28zM1081.05,116.60h10.56v2.64h-10.56zM1094.25,116.60h10.56v2.64h-10.56zM1107.45,116.60h7.92v2.64h-7.92zM1118.01,116.60h21.12v2.64h-21.12zM1141.78,116.60h7.92v2.64h-7.92zM1052.00,119.24h2.64v2.64h-2.64zM1057.28,119.24h7.92v2.64h-7.92zM1067.84,119.24h2.64v2.64h-2.64zM1073.12,119.24h10.56v2.64h-10.56zM1086.33,119.24h5.28v2.64h-5.28zM1102.17,119.24h10.56v2.64h-10.56zM1118.01,119.24h7.92v2.64h-7.92zM1131.22,119.24h2.64v2.64h-2.64zM1136.50,119.24h2.64v2.64h-2.64zM1141.78,119.24h2.64v2.64h-2.64zM1052.00,121.88h2.64v2.64h-2.64zM1057.28,121.88h7.92v2.64h-7.92zM1067.84,121.88h2.64v2.64h-2.64zM1073.12,121.88h23.76v2.64h-23.76zM1099.53,121.88h2.64v2.64h-2.64zM1118.01,121.88h5.28v2.64h-5.28zM1125.94,121.88h2.64v2.64h-2.64zM1136.50,121.88h5.28v2.64h-5.28zM1147.06,121.88h2.64v2.64h-2.64zM1052.00,124.52h2.64v2.64h-2.64zM1067.84,124.52h2.64v2.64h-2.64zM1073.12,124.52h18.48v2.64h-18.48zM1094.25,124.52h13.20v2.64h-13.20zM1118.01,124.52h7.92v2.64h-7.92zM1131.22,124.52h2.64v2.64h-2.64zM1144.42,124.52h5.28v2.64h-5.28zM1052.00,127.16h18.48v2.64h-18.48zM1073.12,127.16h7.92v2.64h-7.92zM1083.69,127.16h2.64v2.64h-2.64zM1094.25,127.16h2.64v2.64h-2.64zM1099.53,127.16h2.64v2.64h-2.64zM1107.45,127.16h2.64v2.64h-2.64zM1112.73,127.16h5.28v2.64h-5.28zM1120.65,127.16h2.64v2.64h-2.64zM1125.94,127.16h2.64v2.64h-2.64zM1131.22,127.16h2.64v2.64h-2.64zM1136.50,127.16h2.64v2.64h-2.64zM1141.78,127.16h7.92v2.64h-7.92z" fill="#2851a4"/>
<rect x="1086.6" y="66.7" width="28.3" height="27.3" fill="#e8352b"/>
<text x="1100.70" y="78.60" font-size="10.5" fill="#fff" font-weight="700" text-anchor="middle" textLength="15.00" lengthAdjust="spacingAndGlyphs">You</text>
<rect x="1089.6" y="80.2" width="22.3" height="11" rx="3.5" fill="#fff"/>
<text x="1100.70" y="89.30" font-size="10" fill="#333" font-weight="700" text-anchor="middle" textLength="15.50" lengthAdjust="spacingAndGlyphs">Tube</text>
<rect x="18" y="144.5" width="1160.3" height="598.8" rx="14" fill="#fff"/>
<text x="104.80" y="165.00" font-size="16.3" fill="#3a4da0" font-weight="700" text-anchor="middle" textLength="139.50" lengthAdjust="spacingAndGlyphs">DECEMBRE 2025</text>
<rect x="28.0" y="253.50" width="152.60" height="16.5" fill="#e2e4f0"/>
<rect x="28.0" y="270.00" width="152.60" height="16.5" fill="#e2e4f0"/>
<rect x="28.0" y="369.00" width="152.60" height="16.5" fill="#e2e4f0"/>
<rect x="28.0" y="385.50" width="152.60" height="16.5" fill="#e2e4f0"/>
<rect x="28.0" y="484.50" width="152.60" height="16.5" fill="#e2e4f0"/>
<rect x="28.0" y="501.00" width="152.60" height="16.5" fill="#e2e4f0"/>
<rect x="28.0" y="600.00" width="152.60" height="16.5" fill="#e2e4f0"/>
<rect x="28.0" y="616.50" width="152.60" height="16.5" fill="#e2e4f0"/>
<path d="M28.0,171.00H181.6M28.0,187.50H181.6M28.0,204.00H181.6M28.0,220.50H181.6M28.0,237.00H181.6M28.0,253.50H181.6M28.0,270.00H181.6M28.0,286.50H181.6M28.0,303.00H181.6M28.0,319.50H181.6M28.0,336.00H181.6M28.0,352.50H181.6M28.0,369.00H181.6M28.0,385.50H181.6M28.0,402.00H181.6M28.0,418.50H181.6M28.0,435.00H181.6M28.0,451.50H181.6M28.0,468.00H181.6M28.0,484.50H181.6M28.0,501.00H181.6M28.0,517.50H181.6M28.0,534.00H181.6M28.0,550.50H181.6M28.0,567.00H181.6M28.0,583.50H181.6M28.0,600.00H181.6M28.0,616.50H181.6M28.0,633.00H181.6M28.0,649.50H181.6M28.0,666.00H181.6M28.0,682.50H181.6" stroke="#cecece" stroke-width="1.3" fill="none"/>
<rect x="54.1" y="170.45" width="21.70" height="511.70" fill="#3a4da0"/>
<path d="M54.1,187.50H75.8M54.1,204.00H75.8M54.1,220.50H75.8M54.1,237.00H75.8M54.1,253.50H75.8M54.1,270.00H75.8M54.1,286.50H75.8M54.1,303.00H75.8M54.1,319.50H75.8M54.1,336.00H75.8M54.1,352.50H75.8M54.1,369.00H75.8M54.1,385.50H75.8M54.1,402.00H75.8M54.1,418.50H75.8M54.1,435.00H75.8M54.1,451.50H75.8M54.1,468.00H75.8M54.1,484.50H75.8M54.1,501.00H75.8M54.1,517.50H75.8M54.1,534.00H75.8M54.1,550.50H75.8M54.1,567.00H75.8M54.1,583.50H75.8M54.1,600.00H75.8M54.1,616.50H75.8M54.1,633.00H75.8M54.1,649.50H75.8M54.1,666.00H75.8" stroke="#d9def3" stroke-width="1.5" fill="none"/>
<rect x="53.800000000000004" y="566.30" width="22.30" height="17.90" fill="#fff"/>
<path d="M53.1,567.00H76.8M53.1,583.50H76.8" stroke="#cecece" stroke-width="1.3" fill="none"/>
<rect x="28.0" y="567.60" width="152.60" height="15.35" fill="#f1c42d"/>
<path d="M82.3,486.10V680.90" stroke="#f0905f" stroke-width="3.0" stroke-linecap="round"/>
<path d="M86.7,486.10V680.90" stroke="#a6ce39" stroke-width="2.6" stroke-linecap="round"/>
<path d="M90.8,486.10V680.90" stroke="#42b9c9" stroke-width="2.6" stroke-linecap="round"/>
<text x="31.20" y="184.10" font-size="11.8" fill="#111" stroke="#111" stroke-width="0.5">LU</text>
<text x="64.95" y="184.20" font-size="12.6" fill="#fff" font-weight="700" text-anchor="middle" stroke="#fff" stroke-width="0.25">1</text>
<text x="31.20" y="200.60" font-size="11.8" fill="#111" stroke="#111" stroke-width="0.5">MA</text>
<text x="64.95" y="200.70" font-size="12.6" fill="#fff" font-weight="700" text-anchor="middle" stroke="#fff" stroke-width="0.25">2</text>
<text x="178.00" y="200.60" font-size="11.6" fill="#aaaaaa" text-anchor="end" stroke="#aaaaaa" stroke-width="0.55">49</text>
<text x="31.20" y="217.10" font-size="11.8" fill="#111" stroke="#111" stroke-width="0.5">ME</text>
<text x="64.95" y="217.20" font-size="12.6" fill="#fff" font-weight="700" text-anchor="middle" stroke="#fff" stroke-width="0.25">3</text>
<text x="31.20" y="233.60" font-size="11.8" fill="#111" stroke="#111" stroke-width="0.5">JE</text>
<text x="64.95" y="233.70" font-size="12.6" fill="#fff" font-weight="700" text-anchor="middle" stroke="#fff" stroke-width="0.25">4</text>
<text x="31.20" y="250.10" font-size="11.8" fill="#111" stroke="#111" stroke-width="0.5">VE</text>
<text x="64.95" y="250.20" font-size="12.6" fill="#fff" font-weight="700" text-anchor="middle" stroke="#fff" stroke-width="0.25">5</text>
<text x="31.20" y="266.60" font-size="11.8" fill="#111" font-weight="700" stroke="#111" stroke-width="0.4">SA</text>
<text x="64.95" y="266.70" font-size="12.6" fill="#fff" font-weight="700" text-anchor="middle" stroke="#fff" stroke-width="0.25">6</text>
<text x="31.20" y="283.10" font-size="11.8" fill="#111" font-weight="700" stroke="#111" stroke-width="0.4">DI</text>
<text x="64.95" y="283.20" font-size="12.6" fill="#fff" font-weight="700" text-anchor="middle" stroke="#fff" stroke-width="0.25">7</text>
<text x="31.20" y="299.60" font-size="11.8" fill="#111" stroke="#111" stroke-width="0.5">LU</text>
<text x="64.95" y="299.70" font-size="12.6" fill="#fff" font-weight="700" text-anchor="middle" stroke="#fff" stroke-width="0.25">8</text>
<text x="31.20" y="316.10" font-size="11.8" fill="#111" stroke="#111" stroke-width="0.5">MA</text>
<text x="64.95" y="316.20" font-size="12.6" fill="#fff" font-weight="700" text-anchor="middle" stroke="#fff" stroke-width="0.25">9</text>
<text x="178.00" y="316.10" font-size="11.6" fill="#aaaaaa" text-anchor="end" stroke="#aaaaaa" stroke-width="0.55">50</text>
<text x="31.20" y="332.60" font-size="11.8" fill="#111" stroke="#111" stroke-width="0.5">ME</text>
<text x="64.95" y="332.70" font-size="12.6" fill="#fff" font-weight="700" text-anchor="middle" stroke="#fff" stroke-width="0.25">10</text>
<text x="31.20" y="349.10" font-size="11.8" fill="#111" stroke="#111" stroke-width="0.5">JE</text>
<text x="64.95" y="349.20" font-size="12.6" fill="#fff" font-weight="700" text-anchor="middle" stroke="#fff" stroke-width="0.25">11</text>
<text x="31.20" y="365.60" font-size="11.8" fill="#111" stroke="#111" stroke-width="0.5">VE</text>
<text x="64.95" y="365.70" font-size="12.6" fill="#fff" font-weight="700" text-anchor="middle" stroke="#fff" stroke-width="0.25">12</text>
<text x="31.20" y="382.10" font-size="11.8" fill="#111" font-weight="700" stroke="#111" stroke-width="0.4">SA</text>
<text x="64.95" y="382.20" font-size="12.6" fill="#fff" font-weight="700" text-anchor="middle" stroke="#fff" stroke-width="0.25">13</text>
<text x="31.20" y="398.60" font-size="11.8" fill="#111" font-weight="700" stroke="#111" stroke-width="0.4">DI</text>
<text x="64.95" y="398.70" font-size="12.6" fill="#fff" font-weight="700" text-anchor="middle" stroke="#fff" stroke-width="0.25">14</text>
<text x="31.20" y="415.10" font-size="11.8" fill="#111" stroke="#111" stroke-width="0.5">LU</text>
<text x="64.95" y="415.20" font-size="12.6" fill="#fff" font-weight="700" text-anchor="middle" stroke="#fff" stroke-width="0.25">15</text>
<text x="31.20" y="431.60" font-size="11.8" fill="#111" stroke="#111" stroke-width="0.5">MA</text>
<text x="64.95" y="431.70" font-size="12.6" fill="#fff" font-weight="700" text-anchor="middle" stroke="#fff" stroke-width="0.25">16</text>
<text x="178.00" y="431.60" font-size="11.6" fill="#aaaaaa" text-anchor="end" stroke="#aaaaaa" stroke-width="0.55">51</text>
<text x="31.20" y="448.10" font-size="11.8" fill="#111" stroke="#111" stroke-width="0.5">ME</text>
<text x="64.95" y="448.20" font-size="12.6" fill="#fff" font-weight="700" text-anchor="middle" stroke="#fff" stroke-width="0.25">17</text>
<text x="31.20" y="464.60" font-size="11.8" fill="#111" stroke="#111" stroke-width="0.5">JE</text>
<text x="64.95" y="464.70" font-size="12.6" fill="#fff" font-weight="700" text-anchor="middle" stroke="#fff" stroke-width="0.25">18</text>
<text x="31.20" y="481.10" font-size="11.8" fill="#111" stroke="#111" stroke-width="0.5">VE</text>
<text x="64.95" y="481.20" font-size="12.6" fill="#fff" font-weight="700" text-anchor="middle" stroke="#fff" stroke-width="0.25">19</text>
<text x="31.20" y="497.60" font-size="11.8" fill="#111" font-weight="700" stroke="#111" stroke-width="0.4">SA</text>
<text x="64.95" y="497.70" font-size="12.6" fill="#fff" font-weight="700" text-anchor="middle" stroke="#fff" stroke-width="0.25">20</text>
<text x="31.20" y="514.10" font-size="11.8" fill="#111" font-weight="700" stroke="#111" stroke-width="0.4">DI</text>
<text x="64.95" y="514.20" font-size="12.6" fill="#fff" font-weight="700" text-anchor="middle" stroke="#fff" stroke-width="0.25">21</text>
<text x="31.20" y="530.60" font-size="11.8" fill="#111" stroke="#111" stroke-width="0.5">LU</text>
<text x="64.95" y="530.70" font-size="12.6" fill="#fff" font-weight="700" text-anchor="middle" stroke="#fff" stroke-width="0.25">22</text>
<text x="31.20" y="547.10" font-size="11.8" fill="#111" stroke="#111" stroke-width="0.5">MA</text>
<text x="64.95" y="547.20" font-size="12.6" fill="#fff" font-weight="700" text-anchor="middle" stroke="#fff" stroke-width="0.25">23</text>
<text x="178.00" y="547.10" font-size="11.6" fill="#aaaaaa" text-anchor="end" stroke="#aaaaaa" stroke-width="0.55">52</text>
<text x="31.20" y="563.60" font-size="11.8" fill="#111" stroke="#111" stroke-width="0.5">ME</text>
<text x="64.95" y="563.70" font-size="12.6" fill="#fff" font-weight="700" text-anchor="middle" stroke="#fff" stroke-width="0.25">24</text>
<text x="31.30" y="580.10" font-size="11.8" fill="#2b2d66" font-weight="700">JE</text>
<text x="64.95" y="580.10" font-size="11.8" fill="#2b2d66" font-weight="700" text-anchor="middle">25</text>
<text x="128.70" y="578.90" font-size="10.3" fill="#2b2d66" font-weight="700" text-anchor="middle" textLength="23.00" lengthAdjust="spacingAndGlyphs">Noël</text>
<text x="31.20" y="596.60" font-size="11.8" fill="#111" stroke="#111" stroke-width="0.5">VE</text>
<text x="64.95" y="596.70" font-size="12.6" fill="#fff" font-weight="700" text-anchor="middle" stroke="#fff" stroke-width="0.25">26</text>
<text x="31.20" y="613.10" font-size="11.8" fill="#111" font-weight="700" stroke="#111" stroke-width="0.4">SA</text>
<text x="64.95" y="613.20" font-size="12.6" fill="#fff" font-weight="700" text-anchor="middle" stroke="#fff" stroke-width="0.25">27</text>
<text x="31.20" y="629.60" font-size="11.8" fill="#111" font-weight="700" stroke="#111" stroke-width="0.4">DI</text>
<text x="64.95" y="629.70" font-size="12.6" fill="#fff" font-weight="700" text-anchor="middle" stroke="#fff" stroke-width="0.25">28</text>
<text x="31.20" y="646.10" font-size="11.8" fill="#111" stroke="#111" stroke-width="0.5">LU</text>
<text x="64.95" y="646.20" font-size="12.6" fill="#fff" font-weight="700" text-anchor="middle" stroke="#fff" stroke-width="0.25">29</text>
<text x="31.20" y="662.60" font-size="11.8" fill="#111" stroke="#111" stroke-width="0.5">MA</text>
<text x="64.95" y="662.70" font-size="12.6" fill="#fff" font-weight="700" text-anchor="middle" stroke="#fff" stroke-width="0.25">30</text>
<text x="178.00" y="662.60" font-size="11.6" fill="#aaaaaa" text-anchor="end" stroke="#aaaaaa" stroke-width="0.55">53</text>
<text x="31.20" y="679.10" font-size="11.8" fill="#111" stroke="#111" stroke-width="0.5">ME</text>
<text x="64.95" y="679.20" font-size="12.6" fill="#fff" font-weight="700" text-anchor="middle" stroke="#fff" stroke-width="0.25">31</text>
<text x="267.45" y="165.00" font-size="16.3" fill="#3a86cc" font-weight="700" text-anchor="middle" textLength="72.50" lengthAdjust="spacingAndGlyphs">JANVIER</text>
<rect x="190.1" y="204.00" width="153.70" height="16.5" fill="#daeef8"/>
<rect x="190.1" y="220.50" width="153.70" height="16.5" fill="#daeef8"/>
<rect x="190.1" y="319.50" width="153.70" height="16.5" fill="#daeef8"/>
<rect x="190.1" y="336.00" width="153.70" height="16.5" fill="#daeef8"/>
<rect x="190.1" y="435.00" width="153.70" height="16.5" fill="#daeef8"/>
<rect x="190.1" y="451.50" width="153.70" height="16.5" fill="#daeef8"/>
<rect x="190.1" y="550.50" width="153.70" height="16.5" fill="#daeef8"/>
<rect x="190.1" y="567.00" width="153.70" height="16.5" fill="#daeef8"/>
<rect x="190.1" y="666.00" width="153.70" height="16.5" fill="#daeef8"/>
<path d="M190.1,171.00H344.8M190.1,187.50H344.8M190.1,204.00H344.8M190.1,220.50H344.8M190.1,237.00H344.8M190.1,253.50H344.8M190.1,270.00H344.8M190.1,286.50H344.8M190.1,303.00H344.8M190.1,319.50H344.8M190.1,336.00H344.8M190.1,352.50H344.8M190.1,369.00H344.8M190.1,385.50H344.8M190.1,402.00H344.8M190.1,418.50H344.8M190.1,435.00H344.8M190.1,451.50H344.8M190.1,468.00H344.8M190.1,484.50H344.8M190.1,501.00H344.8M190.1,517.50H344.8M190.1,534.00H344.8M190.1,550.50H344.8M190.1,567.00H344.8M190.1,583.50H344.8M190.1,600.00H344.8M190.1,616.50H344.8M190.1,633.00H344.8M190.1,649.50H344.8M190.1,666.00H344.8M190.1,682.50H344.8" stroke="#cecece" stroke-width="1.3" fill="none"/>
<rect x="216.3" y="170.45" width="20.70" height="511.70" fill="#3a86cc"/>
<path d="M216.3,187.50H237.0M216.3,204.00H237.0M216.3,220.50H237.0M216.3,237.00H237.0M216.3,253.50H237.0M216.3,270.00H237.0M216.3,286.50H237.0M216.3,303.00H237.0M216.3,319.50H237.0M216.3,336.00H237.0M216.3,352.50H237.0M216.3,369.00H237.0M216.3,385.50H237.0M216.3,402.00H237.0M216.3,418.50H237.0M216.3,435.00H237.0M216.3,451.50H237.0M216.3,468.00H237.0M216.3,484.50H237.0M216.3,501.00H237.0M216.3,517.50H237.0M216.3,534.00H237.0M216.3,550.50H237.0M216.3,567.00H237.0M216.3,583.50H237.0M216.3,600.00H237.0M216.3,616.50H237.0M216.3,633.00H237.0M216.3,649.50H237.0M216.3,666.00H237.0" stroke="#d4ebfa" stroke-width="1.5" fill="none"/>
<rect x="216.0" y="170.30" width="21.30" height="17.90" fill="#fff"/>
<path d="M215.3,171.00H238.0M215.3,187.50H238.0" stroke="#cecece" stroke-width="1.3" fill="none"/>
<rect x="190.1" y="171.60" width="153.70" height="15.35" fill="#f1c42d"/>
<path d="M242.5,172.60V235.40" stroke="#f0905f" stroke-width="2.8" stroke-linecap="round"/>
<path d="M247.2,172.60V235.40" stroke="#a6ce39" stroke-width="2.9" stroke-linecap="round"/>
<path d="M251.3,172.60V235.40" stroke="#42b9c9" stroke-width="2.6" stroke-linecap="round"/>
<text x="193.40" y="184.10" font-size="11.8" fill="#2b2d66" font-weight="700">JE</text>
<text x="226.65" y="184.10" font-size="11.8" fill="#2b2d66" font-weight="700" text-anchor="middle">1</text>
<text x="290.90" y="182.90" font-size="10.3" fill="#2b2d66" font-weight="700" text-anchor="middle" textLength="58.25" lengthAdjust="spacingAndGlyphs">Jour de l’an</text>
<text x="193.30" y="200.60" font-size="11.8" fill="#111" stroke="#111" stroke-width="0.5">VE</text>
<text x="226.65" y="200.70" font-size="12.6" fill="#fff" font-weight="700" text-anchor="middle" stroke="#fff" stroke-width="0.25">2</text>
<text x="193.30" y="217.10" font-size="11.8" fill="#111" font-weight="700" stroke="#111" stroke-width="0.4">SA</text>
<text x="226.65" y="217.20" font-size="12.6" fill="#fff" font-weight="700" text-anchor="middle" stroke="#fff" stroke-width="0.25">3</text>
<text x="193.30" y="233.60" font-size="11.8" fill="#111" font-weight="700" stroke="#111" stroke-width="0.4">DI</text>
<text x="226.65" y="233.70" font-size="12.6" fill="#fff" font-weight="700" text-anchor="middle" stroke="#fff" stroke-width="0.25">4</text>
<text x="193.30" y="250.10" font-size="11.8" fill="#111" stroke="#111" stroke-width="0.5">LU</text>
<text x="226.65" y="250.20" font-size="12.6" fill="#fff" font-weight="700" text-anchor="middle" stroke="#fff" stroke-width="0.25">5</text>
<text x="193.30" y="266.60" font-size="11.8" fill="#111" stroke="#111" stroke-width="0.5">MA</text>
<text x="226.65" y="266.70" font-size="12.6" fill="#fff" font-weight="700" text-anchor="middle" stroke="#fff" stroke-width="0.25">6</text>
<text x="341.20" y="266.60" font-size="11.6" fill="#aaaaaa" text-anchor="end" stroke="#aaaaaa" stroke-width="0.55">2</text>
<text x="193.30" y="283.10" font-size="11.8" fill="#111" stroke="#111" stroke-width="0.5">ME</text>
<text x="226.65" y="283.20" font-size="12.6" fill="#fff" font-weight="700" text-anchor="middle" stroke="#fff" stroke-width="0.25">7</text>
<text x="193.30" y="299.60" font-size="11.8" fill="#111" stroke="#111" stroke-width="0.5">JE</text>
<text x="226.65" y="299.70" font-size="12.6" fill="#fff" font-weight="700" text-anchor="middle" stroke="#fff" stroke-width="0.25">8</text>
<text x="193.30" y="316.10" font-size="11.8" fill="#111" stroke="#111" stroke-width="0.5">VE</text>
<text x="226.65" y="316.20" font-size="12.6" fill="#fff" font-weight="700" text-anchor="middle" stroke="#fff" stroke-width="0.25">9</text>
<text x="193.30" y="332.60" font-size="11.8" fill="#111" font-weight="700" stroke="#111" stroke-width="0.4">SA</text>
<text x="226.65" y="332.70" font-size="12.6" fill="#fff" font-weight="700" text-anchor="middle" stroke="#fff" stroke-width="0.25">10</text>
<text x="193.30" y="349.10" font-size="11.8" fill="#111" font-weight="700" stroke="#111" stroke-width="0.4">DI</text>
<text x="226.65" y="349.20" font-size="12.6" fill="#fff" font-weight="700" text-anchor="middle" stroke="#fff" stroke-width="0.25">11</text>
<text x="193.30" y="365.60" font-size="11.8" fill="#111" stroke="#111" stroke-width="0.5">LU</text>
<text x="226.65" y="365.70" font-size="12.6" fill="#fff" font-weight="700" text-anchor="middle" stroke="#fff" stroke-width="0.25">12</text>
<text x="193.30" y="382.10" font-size="11.8" fill="#111" stroke="#111" stroke-width="0.5">MA</text>
<text x="226.65" y="382.20" font-size="12.6" fill="#fff" font-weight="700" text-anchor="middle" stroke="#fff" stroke-width="0.25">13</text>
<text x="341.20" y="382.10" font-size="11.6" fill="#aaaaaa" text-anchor="end" stroke="#aaaaaa" stroke-width="0.55">3</text>
<text x="193.30" y="398.60" font-size="11.8" fill="#111" stroke="#111" stroke-width="0.5">ME</text>
<text x="226.65" y="398.70" font-size="12.6" fill="#fff" font-weight="700" text-anchor="middle" stroke="#fff" stroke-width="0.25">14</text>
<text x="193.30" y="415.10" font-size="11.8" fill="#111" stroke="#111" stroke-width="0.5">JE</text>
<text x="226.65" y="415.20" font-size="12.6" fill="#fff" font-weight="700" text-anchor="middle" stroke="#fff" stroke-width="0.25">15</text>
<text x="193.30" y="431.60" font-size="11.8" fill="#111" stroke="#111" stroke-width="0.5">VE</text>
<text x="226.65" y="431.70" font-size="12.6" fill="#fff" font-weight="700" text-anchor="middle" stroke="#fff" stroke-width="0.25">16</text>
<text x="193.30" y="448.10" font-size="11.8" fill="#111" font-weight="700" stroke="#111" stroke-width="0.4">SA</text>
<text x="226.65" y="448.20" font-size="12.6" fill="#fff" font-weight="700" text-anchor="middle" stroke="#fff" stroke-width="0.25">17</text>
<text x="193.30" y="464.60" font-size="11.8" fill="#111" font-weight="700" stroke="#111" stroke-width="0.4">DI</text>
<text x="226.65" y="464.70" font-size="12.6" fill="#fff" font-weight="700" text-anchor="middle" stroke="#fff" stroke-width="0.25">18</text>
<text x="193.30" y="481.10" font-size="11.8" fill="#111" stroke="#111" stroke-width="0.5">LU</text>
<text x="226.65" y="481.20" font-size="12.6" fill="#fff" font-weight="700" text-anchor="middle" stroke="#fff" stroke-width="0.25">19</text>
<text x="193.30" y="497.60" font-size="11.8" fill="#111" stroke="#111" stroke-width="0.5">MA</text>
<text x="226.65" y="497.70" font-size="12.6" fill="#fff" font-weight="700" text-anchor="middle" stroke="#fff" stroke-width="0.25">20</text>
<text x="341.20" y="497.60" font-size="11.6" fill="#aaaaaa" text-anchor="end" stroke="#aaaaaa" stroke-width="0.55">4</text>
<text x="193.30" y="514.10" font-size="11.8" fill="#111" stroke="#111" stroke-width="0.5">ME</text>
<text x="226.65" y="514.20" font-size="12.6" fill="#fff" font-weight="700" text-anchor="middle" stroke="#fff" stroke-width="0.25">21</text>
<text x="193.30" y="530.60" font-size="11.8" fill="#111" stroke="#111" stroke-width="0.5">JE</text>
<text x="226.65" y="530.70" font-size="12.6" fill="#fff" font-weight="700" text-anchor="middle" stroke="#fff" stroke-width="0.25">22</text>
<text x="193.30" y="547.10" font-size="11.8" fill="#111" stroke="#111" stroke-width="0.5">VE</text>
<text x="226.65" y="547.20" font-size="12.6" fill="#fff" font-weight="700" text-anchor="middle" stroke="#fff" stroke-width="0.25">23</text>
<text x="193.30" y="563.60" font-size="11.8" fill="#111" font-weight="700" stroke="#111" stroke-width="0.4">SA</text>
<text x="226.65" y="563.70" font-size="12.6" fill="#fff" font-weight="700" text-anchor="middle" stroke="#fff" stroke-width="0.25">24</text>
<text x="193.30" y="580.10" font-size="11.8" fill="#111" font-weight="700" stroke="#111" stroke-width="0.4">DI</text>
<text x="226.65" y="580.20" font-size="12.6" fill="#fff" font-weight="700" text-anchor="middle" stroke="#fff" stroke-width="0.25">25</text>
<text x="193.30" y="596.60" font-size="11.8" fill="#111" stroke="#111" stroke-width="0.5">LU</text>
<text x="226.65" y="596.70" font-size="12.6" fill="#fff" font-weight="700" text-anchor="middle" stroke="#fff" stroke-width="0.25">26</text>
<text x="193.30" y="613.10" font-size="11.8" fill="#111" stroke="#111" stroke-width="0.5">MA</text>
<text x="226.65" y="613.20" font-size="12.6" fill="#fff" font-weight="700" text-anchor="middle" stroke="#fff" stroke-width="0.25">27</text>
<text x="341.20" y="613.10" font-size="11.6" fill="#aaaaaa" text-anchor="end" stroke="#aaaaaa" stroke-width="0.55">5</text>
<text x="193.30" y="629.60" font-size="11.8" fill="#111" stroke="#111" stroke-width="0.5">ME</text>
<text x="226.65" y="629.70" font-size="12.6" fill="#fff" font-weight="700" text-anchor="middle" stroke="#fff" stroke-width="0.25">28</text>
<text x="193.30" y="646.10" font-size="11.8" fill="#111" stroke="#111" stroke-width="0.5">JE</text>
<text x="226.65" y="646.20" font-size="12.6" fill="#fff" font-weight="700" text-anchor="middle" stroke="#fff" stroke-width="0.25">29</text>
<text x="193.30" y="662.60" font-size="11.8" fill="#111" stroke="#111" stroke-width="0.5">VE</text>
<text x="226.65" y="662.70" font-size="12.6" fill="#fff" font-weight="700" text-anchor="middle" stroke="#fff" stroke-width="0.25">30</text>
<text x="193.30" y="679.10" font-size="11.8" fill="#111" font-weight="700" stroke="#111" stroke-width="0.4">SA</text>
<text x="226.65" y="679.20" font-size="12.6" fill="#fff" font-weight="700" text-anchor="middle" stroke="#fff" stroke-width="0.25">31</text>
<text x="431.80" y="165.00" font-size="16.3" fill="#1fa3d6" font-weight="700" text-anchor="middle" textLength="69.75" lengthAdjust="spacingAndGlyphs">FEVRIER</text>
<rect x="354.1" y="171.00" width="154.40" height="16.5" fill="#d9eff7"/>
<rect x="354.1" y="270.00" width="154.40" height="16.5" fill="#d9eff7"/>
<rect x="354.1" y="286.50" width="154.40" height="16.5" fill="#d9eff7"/>
<rect x="354.1" y="385.50" width="154.40" height="16.5" fill="#d9eff7"/>
<rect x="354.1" y="402.00" width="154.40" height="16.5" fill="#d9eff7"/>
<rect x="354.1" y="501.00" width="154.40" height="16.5" fill="#d9eff7"/>
<rect x="354.1" y="517.50" width="154.40" height="16.5" fill="#d9eff7"/>
<rect x="354.1" y="616.50" width="154.40" height="16.5" fill="#d9eff7"/>
<path d="M354.1,171.00H509.5M354.1,187.50H509.5M354.1,204.00H509.5M354.1,220.50H509.5M354.1,237.00H509.5M354.1,253.50H509.5M354.1,270.00H509.5M354.1,286.50H509.5M354.1,303.00H509.5M354.1,319.50H509.5M354.1,336.00H509.5M354.1,352.50H509.5M354.1,369.00H509.5M354.1,385.50H509.5M354.1,402.00H509.5M354.1,418.50H509.5M354.1,435.00H509.5M354.1,451.50H509.5M354.1,468.00H509.5M354.1,484.50H509.5M354.1,501.00H509.5M354.1,517.50H509.5M354.1,534.00H509.5M354.1,550.50H509.5M354.1,567.00H509.5M354.1,583.50H509.5M354.1,600.00H509.5M354.1,616.50H509.5M354.1,633.00H509.5" stroke="#cecece" stroke-width="1.3" fill="none"/>
<rect x="380.1" y="170.45" width="20.80" height="462.20" fill="#1fa3d6"/>
<path d="M380.1,187.50H400.9M380.1,204.00H400.9M380.1,220.50H400.9M380.1,237.00H400.9M380.1,253.50H400.9M380.1,270.00H400.9M380.1,286.50H400.9M380.1,303.00H400.9M380.1,319.50H400.9M380.1,336.00H400.9M380.1,352.50H400.9M380.1,369.00H400.9M380.1,385.50H400.9M380.1,402.00H400.9M380.1,418.50H400.9M380.1,435.00H400.9M380.1,451.50H400.9M380.1,468.00H400.9M380.1,484.50H400.9M380.1,501.00H400.9M380.1,517.50H400.9M380.1,534.00H400.9M380.1,550.50H400.9M380.1,567.00H400.9M380.1,583.50H400.9M380.1,600.00H400.9M380.1,616.50H400.9" stroke="#cdf0fb" stroke-width="1.5" fill="none"/>
<path d="M407.5,271.60V532.40" stroke="#f0905f" stroke-width="3.0" stroke-linecap="round"/>
<path d="M413.3,387.10V631.40" stroke="#a6ce39" stroke-width="2.6" stroke-linecap="round"/>
<path d="M418.8,502.60V631.40" stroke="#42b9c9" stroke-width="2.6" stroke-linecap="round"/>
<text x="357.30" y="184.10" font-size="11.8" fill="#111" font-weight="700" stroke="#111" stroke-width="0.4">DI</text>
<text x="390.50" y="184.20" font-size="12.6" fill="#fff" font-weight="700" text-anchor="middle" stroke="#fff" stroke-width="0.25">1</text>
<text x="357.30" y="200.60" font-size="11.8" fill="#111" stroke="#111" stroke-width="0.5">LU</text>
<text x="390.50" y="200.70" font-size="12.6" fill="#fff" font-weight="700" text-anchor="middle" stroke="#fff" stroke-width="0.25">2</text>
<text x="357.30" y="217.10" font-size="11.8" fill="#111" stroke="#111" stroke-width="0.5">MA</text>
<text x="390.50" y="217.20" font-size="12.6" fill="#fff" font-weight="700" text-anchor="middle" stroke="#fff" stroke-width="0.25">3</text>
<text x="505.90" y="217.10" font-size="11.6" fill="#aaaaaa" text-anchor="end" stroke="#aaaaaa" stroke-width="0.55">6</text>
<text x="357.30" y="233.60" font-size="11.8" fill="#111" stroke="#111" stroke-width="0.5">ME</text>
<text x="390.50" y="233.70" font-size="12.6" fill="#fff" font-weight="700" text-anchor="middle" stroke="#fff" stroke-width="0.25">4</text>
<text x="357.30" y="250.10" font-size="11.8" fill="#111" stroke="#111" stroke-width="0.5">JE</text>
<text x="390.50" y="250.20" font-size="12.6" fill="#fff" font-weight="700" text-anchor="middle" stroke="#fff" stroke-width="0.25">5</text>
<text x="357.30" y="266.60" font-size="11.8" fill="#111" stroke="#111" stroke-width="0.5">VE</text>
<text x="390.50" y="266.70" font-size="12.6" fill="#fff" font-weight="700" text-anchor="middle" stroke="#fff" stroke-width="0.25">6</text>
<text x="357.30" y="283.10" font-size="11.8" fill="#111" font-weight="700" stroke="#111" stroke-width="0.4">SA</text>
<text x="390.50" y="283.20" font-size="12.6" fill="#fff" font-weight="700" text-anchor="middle" stroke="#fff" stroke-width="0.25">7</text>
<text x="357.30" y="299.60" font-size="11.8" fill="#111" font-weight="700" stroke="#111" stroke-width="0.4">DI</text>
<text x="390.50" y="299.70" font-size="12.6" fill="#fff" font-weight="700" text-anchor="middle" stroke="#fff" stroke-width="0.25">8</text>
<text x="357.30" y="316.10" font-size="11.8" fill="#111" stroke="#111" stroke-width="0.5">LU</text>
<text x="390.50" y="316.20" font-size="12.6" fill="#fff" font-weight="700" text-anchor="middle" stroke="#fff" stroke-width="0.25">9</text>
<text x="357.30" y="332.60" font-size="11.8" fill="#111" stroke="#111" stroke-width="0.5">MA</text>
<text x="390.50" y="332.70" font-size="12.6" fill="#fff" font-weight="700" text-anchor="middle" stroke="#fff" stroke-width="0.25">10</text>
<text x="505.90" y="332.60" font-size="11.6" fill="#aaaaaa" text-anchor="end" stroke="#aaaaaa" stroke-width="0.55">7</text>
<text x="357.30" y="349.10" font-size="11.8" fill="#111" stroke="#111" stroke-width="0.5">ME</text>
<text x="390.50" y="349.20" font-size="12.6" fill="#fff" font-weight="700" text-anchor="middle" stroke="#fff" stroke-width="0.25">11</text>
<text x="357.30" y="365.60" font-size="11.8" fill="#111" stroke="#111" stroke-width="0.5">JE</text>
<text x="390.50" y="365.70" font-size="12.6" fill="#fff" font-weight="700" text-anchor="middle" stroke="#fff" stroke-width="0.25">12</text>
<text x="357.30" y="382.10" font-size="11.8" fill="#111" stroke="#111" stroke-width="0.5">VE</text>
<text x="390.50" y="382.20" font-size="12.6" fill="#fff" font-weight="700" text-anchor="middle" stroke="#fff" stroke-width="0.25">13</text>
<text x="357.30" y="398.60" font-size="11.8" fill="#111" font-weight="700" stroke="#111" stroke-width="0.4">SA</text>
<text x="390.50" y="398.70" font-size="12.6" fill="#fff" font-weight="700" text-anchor="middle" stroke="#fff" stroke-width="0.25">14</text>
<text x="357.30" y="415.10" font-size="11.8" fill="#111" font-weight="700" stroke="#111" stroke-width="0.4">DI</text>
<text x="390.50" y="415.20" font-size="12.6" fill="#fff" font-weight="700" text-anchor="middle" stroke="#fff" stroke-width="0.25">15</text>
<text x="357.30" y="431.60" font-size="11.8" fill="#111" stroke="#111" stroke-width="0.5">LU</text>
<text x="390.50" y="431.70" font-size="12.6" fill="#fff" font-weight="700" text-anchor="middle" stroke="#fff" stroke-width="0.25">16</text>
<text x="357.30" y="448.10" font-size="11.8" fill="#111" stroke="#111" stroke-width="0.5">MA</text>
<text x="390.50" y="448.20" font-size="12.6" fill="#fff" font-weight="700" text-anchor="middle" stroke="#fff" stroke-width="0.25">17</text>
<text x="505.90" y="448.10" font-size="11.6" fill="#aaaaaa" text-anchor="end" stroke="#aaaaaa" stroke-width="0.55">8</text>
<text x="357.30" y="464.60" font-size="11.8" fill="#111" stroke="#111" stroke-width="0.5">ME</text>
<text x="390.50" y="464.70" font-size="12.6" fill="#fff" font-weight="700" text-anchor="middle" stroke="#fff" stroke-width="0.25">18</text>
<text x="357.30" y="481.10" font-size="11.8" fill="#111" stroke="#111" stroke-width="0.5">JE</text>
<text x="390.50" y="481.20" font-size="12.6" fill="#fff" font-weight="700" text-anchor="middle" stroke="#fff" stroke-width="0.25">19</text>
<text x="357.30" y="497.60" font-size="11.8" fill="#111" stroke="#111" stroke-width="0.5">VE</text>
<text x="390.50" y="497.70" font-size="12.6" fill="#fff" font-weight="700" text-anchor="middle" stroke="#fff" stroke-width="0.25">20</text>
<text x="357.30" y="514.10" font-size="11.8" fill="#111" font-weight="700" stroke="#111" stroke-width="0.4">SA</text>
<text x="390.50" y="514.20" font-size="12.6" fill="#fff" font-weight="700" text-anchor="middle" stroke="#fff" stroke-width="0.25">21</text>
<text x="357.30" y="530.60" font-size="11.8" fill="#111" font-weight="700" stroke="#111" stroke-width="0.4">DI</text>
<text x="390.50" y="530.70" font-size="12.6" fill="#fff" font-weight="700" text-anchor="middle" stroke="#fff" stroke-width="0.25">22</text>
<text x="357.30" y="547.10" font-size="11.8" fill="#111" stroke="#111" stroke-width="0.5">LU</text>
<text x="390.50" y="547.20" font-size="12.6" fill="#fff" font-weight="700" text-anchor="middle" stroke="#fff" stroke-width="0.25">23</text>
<text x="357.30" y="563.60" font-size="11.8" fill="#111" stroke="#111" stroke-width="0.5">MA</text>
<text x="390.50" y="563.70" font-size="12.6" fill="#fff" font-weight="700" text-anchor="middle" stroke="#fff" stroke-width="0.25">24</text>
<text x="505.90" y="563.60" font-size="11.6" fill="#aaaaaa" text-anchor="end" stroke="#aaaaaa" stroke-width="0.55">9</text>
<text x="357.30" y="580.10" font-size="11.8" fill="#111" stroke="#111" stroke-width="0.5">ME</text>
<text x="390.50" y="580.20" font-size="12.6" fill="#fff" font-weight="700" text-anchor="middle" stroke="#fff" stroke-width="0.25">25</text>
<text x="357.30" y="596.60" font-size="11.8" fill="#111" stroke="#111" stroke-width="0.5">JE</text>
<text x="390.50" y="596.70" font-size="12.6" fill="#fff" font-weight="700" text-anchor="middle" stroke="#fff" stroke-width="0.25">26</text>
<text x="357.30" y="613.10" font-size="11.8" fill="#111" stroke="#111" stroke-width="0.5">VE</text>
<text x="390.50" y="613.20" font-size="12.6" fill="#fff" font-weight="700" text-anchor="middle" stroke="#fff" stroke-width="0.25">27</text>
<text x="357.30" y="629.60" font-size="11.8" fill="#111" font-weight="700" stroke="#111" stroke-width="0.4">SA</text>
<text x="390.50" y="629.70" font-size="12.6" fill="#fff" font-weight="700" text-anchor="middle" stroke="#fff" stroke-width="0.25">28</text>
<text x="595.90" y="165.00" font-size="16.3" fill="#2ba583" font-weight="700" text-anchor="middle" textLength="47.50" lengthAdjust="spacingAndGlyphs">MARS</text>
<rect x="518.0" y="171.00" width="154.80" height="16.5" fill="#d8ede8"/>
<rect x="518.0" y="270.00" width="154.80" height="16.5" fill="#d8ede8"/>
<rect x="518.0" y="286.50" width="154.80" height="16.5" fill="#d8ede8"/>
<rect x="518.0" y="385.50" width="154.80" height="16.5" fill="#d8ede8"/>
<rect x="518.0" y="402.00" width="154.80" height="16.5" fill="#d8ede8"/>
<rect x="518.0" y="501.00" width="154.80" height="16.5" fill="#d8ede8"/>
<rect x="518.0" y="517.50" width="154.80" height="16.5" fill="#d8ede8"/>
<rect x="518.0" y="616.50" width="154.80" height="16.5" fill="#d8ede8"/>
<rect x="518.0" y="633.00" width="154.80" height="16.5" fill="#d8ede8"/>
<path d="M518.0,171.00H673.8M518.0,187.50H673.8M518.0,204.00H673.8M518.0,220.50H673.8M518.0,237.00H673.8M518.0,253.50H673.8M518.0,270.00H673.8M518.0,286.50H673.8M518.0,303.00H673.8M518.0,319.50H673.8M518.0,336.00H673.8M518.0,352.50H673.8M518.0,369.00H673.8M518.0,385.50H673.8M518.0,402.00H673.8M518.0,418.50H673.8M518.0,435.00H673.8M518.0,451.50H673.8M518.0,468.00H673.8M518.0,484.50H673.8M518.0,501.00H673.8M518.0,517.50H673.8M518.0,534.00H673.8M518.0,550.50H673.8M518.0,567.00H673.8M518.0,583.50H673.8M518.0,600.00H673.8M518.0,616.50H673.8M518.0,633.00H673.8M518.0,649.50H673.8M518.0,666.00H673.8M518.0,682.50H673.8" stroke="#cecece" stroke-width="1.3" fill="none"/>
<rect x="544.1" y="170.45" width="21.90" height="511.70" fill="#2ba583"/>
<path d="M544.1,187.50H566.0M544.1,204.00H566.0M544.1,220.50H566.0M544.1,237.00H566.0M544.1,253.50H566.0M544.1,270.00H566.0M544.1,286.50H566.0M544.1,303.00H566.0M544.1,319.50H566.0M544.1,336.00H566.0M544.1,352.50H566.0M544.1,369.00H566.0M544.1,385.50H566.0M544.1,402.00H566.0M544.1,418.50H566.0M544.1,435.00H566.0M544.1,451.50H566.0M544.1,468.00H566.0M544.1,484.50H566.0M544.1,501.00H566.0M544.1,517.50H566.0M544.1,534.00H566.0M544.1,550.50H566.0M544.1,567.00H566.0M544.1,583.50H566.0M544.1,600.00H566.0M544.1,616.50H566.0M544.1,633.00H566.0M544.1,649.50H566.0M544.1,666.00H566.0" stroke="#c9f0e2" stroke-width="1.5" fill="none"/>
<path d="M572.0,172.60V185.90" stroke="#a6ce39" stroke-width="2.8" stroke-linecap="round"/>
<path d="M577.8,172.60V301.40" stroke="#42b9c9" stroke-width="3.0" stroke-linecap="round"/>
<text x="521.20" y="184.10" font-size="11.8" fill="#111" font-weight="700" stroke="#111" stroke-width="0.4">DI</text>
<text x="555.05" y="184.20" font-size="12.6" fill="#fff" font-weight="700" text-anchor="middle" stroke="#fff" stroke-width="0.25">1</text>
<text x="521.20" y="200.60" font-size="11.8" fill="#111" stroke="#111" stroke-width="0.5">LU</text>
<text x="555.05" y="200.70" font-size="12.6" fill="#fff" font-weight="700" text-anchor="middle" stroke="#fff" stroke-width="0.25">2</text>
<text x="521.20" y="217.10" font-size="11.8" fill="#111" stroke="#111" stroke-width="0.5">MA</text>
<text x="555.05" y="217.20" font-size="12.6" fill="#fff" font-weight="700" text-anchor="middle" stroke="#fff" stroke-width="0.25">3</text>
<text x="670.20" y="217.10" font-size="11.6" fill="#aaaaaa" text-anchor="end" stroke="#aaaaaa" stroke-width="0.55">10</text>
<text x="521.20" y="233.60" font-size="11.8" fill="#111" stroke="#111" stroke-width="0.5">ME</text>
<text x="555.05" y="233.70" font-size="12.6" fill="#fff" font-weight="700" text-anchor="middle" stroke="#fff" stroke-width="0.25">4</text>
<text x="521.20" y="250.10" font-size="11.8" fill="#111" stroke="#111" stroke-width="0.5">JE</text>
<text x="555.05" y="250.20" font-size="12.6" fill="#fff" font-weight="700" text-anchor="middle" stroke="#fff" stroke-width="0.25">5</text>
<text x="521.20" y="266.60" font-size="11.8" fill="#111" stroke="#111" stroke-width="0.5">VE</text>
<text x="555.05" y="266.70" font-size="12.6" fill="#fff" font-weight="700" text-anchor="middle" stroke="#fff" stroke-width="0.25">6</text>
<text x="521.20" y="283.10" font-size="11.8" fill="#111" font-weight="700" stroke="#111" stroke-width="0.4">SA</text>
<text x="555.05" y="283.20" font-size="12.6" fill="#fff" font-weight="700" text-anchor="middle" stroke="#fff" stroke-width="0.25">7</text>
<text x="521.20" y="299.60" font-size="11.8" fill="#111" font-weight="700" stroke="#111" stroke-width="0.4">DI</text>
<text x="555.05" y="299.70" font-size="12.6" fill="#fff" font-weight="700" text-anchor="middle" stroke="#fff" stroke-width="0.25">8</text>
<text x="521.20" y="316.10" font-size="11.8" fill="#111" stroke="#111" stroke-width="0.5">LU</text>
<text x="555.05" y="316.20" font-size="12.6" fill="#fff" font-weight="700" text-anchor="middle" stroke="#fff" stroke-width="0.25">9</text>
<text x="521.20" y="332.60" font-size="11.8" fill="#111" stroke="#111" stroke-width="0.5">MA</text>
<text x="555.05" y="332.70" font-size="12.6" fill="#fff" font-weight="700" text-anchor="middle" stroke="#fff" stroke-width="0.25">10</text>
<text x="670.20" y="332.60" font-size="11.6" fill="#aaaaaa" text-anchor="end" stroke="#aaaaaa" stroke-width="0.55">11</text>
<text x="521.20" y="349.10" font-size="11.8" fill="#111" stroke="#111" stroke-width="0.5">ME</text>
<text x="555.05" y="349.20" font-size="12.6" fill="#fff" font-weight="700" text-anchor="middle" stroke="#fff" stroke-width="0.25">11</text>
<text x="521.20" y="365.60" font-size="11.8" fill="#111" stroke="#111" stroke-width="0.5">JE</text>
<text x="555.05" y="365.70" font-size="12.6" fill="#fff" font-weight="700" text-anchor="middle" stroke="#fff" stroke-width="0.25">12</text>
<text x="521.20" y="382.10" font-size="11.8" fill="#111" stroke="#111" stroke-width="0.5">VE</text>
<text x="555.05" y="382.20" font-size="12.6" fill="#fff" font-weight="700" text-anchor="middle" stroke="#fff" stroke-width="0.25">13</text>
<text x="521.20" y="398.60" font-size="11.8" fill="#111" font-weight="700" stroke="#111" stroke-width="0.4">SA</text>
<text x="555.05" y="398.70" font-size="12.6" fill="#fff" font-weight="700" text-anchor="middle" stroke="#fff" stroke-width="0.25">14</text>
<text x="521.20" y="415.10" font-size="11.8" fill="#111" font-weight="700" stroke="#111" stroke-width="0.4">DI</text>
<text x="555.05" y="415.20" font-size="12.6" fill="#fff" font-weight="700" text-anchor="middle" stroke="#fff" stroke-width="0.25">15</text>
<text x="521.20" y="431.60" font-size="11.8" fill="#111" stroke="#111" stroke-width="0.5">LU</text>
<text x="555.05" y="431.70" font-size="12.6" fill="#fff" font-weight="700" text-anchor="middle" stroke="#fff" stroke-width="0.25">16</text>
<text x="521.20" y="448.10" font-size="11.8" fill="#111" stroke="#111" stroke-width="0.5">MA</text>
<text x="555.05" y="448.20" font-size="12.6" fill="#fff" font-weight="700" text-anchor="middle" stroke="#fff" stroke-width="0.25">17</text>
<text x="670.20" y="448.10" font-size="11.6" fill="#aaaaaa" text-anchor="end" stroke="#aaaaaa" stroke-width="0.55">12</text>
<text x="521.20" y="464.60" font-size="11.8" fill="#111" stroke="#111" stroke-width="0.5">ME</text>
<text x="555.05" y="464.70" font-size="12.6" fill="#fff" font-weight="700" text-anchor="middle" stroke="#fff" stroke-width="0.25">18</text>
<text x="521.20" y="481.10" font-size="11.8" fill="#111" stroke="#111" stroke-width="0.5">JE</text>
<text x="555.05" y="481.20" font-size="12.6" fill="#fff" font-weight="700" text-anchor="middle" stroke="#fff" stroke-width="0.25">19</text>
<text x="521.20" y="497.60" font-size="11.8" fill="#111" stroke="#111" stroke-width="0.5">VE</text>
<text x="555.05" y="497.70" font-size="12.6" fill="#fff" font-weight="700" text-anchor="middle" stroke="#fff" stroke-width="0.25">20</text>
<text x="521.20" y="514.10" font-size="11.8" fill="#111" font-weight="700" stroke="#111" stroke-width="0.4">SA</text>
<text x="555.05" y="514.20" font-size="12.6" fill="#fff" font-weight="700" text-anchor="middle" stroke="#fff" stroke-width="0.25">21</text>
<text x="521.20" y="530.60" font-size="11.8" fill="#111" font-weight="700" stroke="#111" stroke-width="0.4">DI</text>
<text x="555.05" y="530.70" font-size="12.6" fill="#fff" font-weight="700" text-anchor="middle" stroke="#fff" stroke-width="0.25">22</text>
<text x="521.20" y="547.10" font-size="11.8" fill="#111" stroke="#111" stroke-width="0.5">LU</text>
<text x="555.05" y="547.20" font-size="12.6" fill="#fff" font-weight="700" text-anchor="middle" stroke="#fff" stroke-width="0.25">23</text>
<text x="521.20" y="563.60" font-size="11.8" fill="#111" stroke="#111" stroke-width="0.5">MA</text>
<text x="555.05" y="563.70" font-size="12.6" fill="#fff" font-weight="700" text-anchor="middle" stroke="#fff" stroke-width="0.25">24</text>
<text x="670.20" y="563.60" font-size="11.6" fill="#aaaaaa" text-anchor="end" stroke="#aaaaaa" stroke-width="0.55">13</text>
<text x="521.20" y="580.10" font-size="11.8" fill="#111" stroke="#111" stroke-width="0.5">ME</text>
<text x="555.05" y="580.20" font-size="12.6" fill="#fff" font-weight="700" text-anchor="middle" stroke="#fff" stroke-width="0.25">25</text>
<text x="521.20" y="596.60" font-size="11.8" fill="#111" stroke="#111" stroke-width="0.5">JE</text>
<text x="555.05" y="596.70" font-size="12.6" fill="#fff" font-weight="700" text-anchor="middle" stroke="#fff" stroke-width="0.25">26</text>
<text x="521.20" y="613.10" font-size="11.8" fill="#111" stroke="#111" stroke-width="0.5">VE</text>
<text x="555.05" y="613.20" font-size="12.6" fill="#fff" font-weight="700" text-anchor="middle" stroke="#fff" stroke-width="0.25">27</text>
<text x="521.20" y="629.60" font-size="11.8" fill="#111" font-weight="700" stroke="#111" stroke-width="0.4">SA</text>
<text x="555.05" y="629.70" font-size="12.6" fill="#fff" font-weight="700" text-anchor="middle" stroke="#fff" stroke-width="0.25">28</text>
<text x="521.20" y="646.10" font-size="11.8" fill="#111" font-weight="700" stroke="#111" stroke-width="0.4">DI</text>
<text x="555.05" y="646.20" font-size="12.6" fill="#fff" font-weight="700" text-anchor="middle" stroke="#fff" stroke-width="0.25">29</text>
<text x="521.20" y="662.60" font-size="11.8" fill="#111" stroke="#111" stroke-width="0.5">LU</text>
<text x="555.05" y="662.70" font-size="12.6" fill="#fff" font-weight="700" text-anchor="middle" stroke="#fff" stroke-width="0.25">30</text>
<text x="521.20" y="679.10" font-size="11.8" fill="#111" stroke="#111" stroke-width="0.5">MA</text>
<text x="555.05" y="679.20" font-size="12.6" fill="#fff" font-weight="700" text-anchor="middle" stroke="#fff" stroke-width="0.25">31</text>
<text x="670.20" y="679.10" font-size="11.6" fill="#aaaaaa" text-anchor="end" stroke="#aaaaaa" stroke-width="0.55">14</text>
<text x="759.80" y="165.00" font-size="16.3" fill="#5bb045" font-weight="700" text-anchor="middle" textLength="49.50" lengthAdjust="spacingAndGlyphs">AVRIL</text>
<rect x="682.0" y="220.50" width="154.60" height="16.5" fill="#e3f2e3"/>
<rect x="682.0" y="336.00" width="154.60" height="16.5" fill="#e3f2e3"/>
<rect x="682.0" y="352.50" width="154.60" height="16.5" fill="#e3f2e3"/>
<rect x="682.0" y="451.50" width="154.60" height="16.5" fill="#e3f2e3"/>
<rect x="682.0" y="468.00" width="154.60" height="16.5" fill="#e3f2e3"/>
<rect x="682.0" y="567.00" width="154.60" height="16.5" fill="#e3f2e3"/>
<rect x="682.0" y="583.50" width="154.60" height="16.5" fill="#e3f2e3"/>
<path d="M682.0,171.00H837.6M682.0,187.50H837.6M682.0,204.00H837.6M682.0,220.50H837.6M682.0,237.00H837.6M682.0,253.50H837.6M682.0,270.00H837.6M682.0,286.50H837.6M682.0,303.00H837.6M682.0,319.50H837.6M682.0,336.00H837.6M682.0,352.50H837.6M682.0,369.00H837.6M682.0,385.50H837.6M682.0,402.00H837.6M682.0,418.50H837.6M682.0,435.00H837.6M682.0,451.50H837.6M682.0,468.00H837.6M682.0,484.50H837.6M682.0,501.00H837.6M682.0,517.50H837.6M682.0,534.00H837.6M682.0,550.50H837.6M682.0,567.00H837.6M682.0,583.50H837.6M682.0,600.00H837.6M682.0,616.50H837.6M682.0,633.00H837.6M682.0,649.50H837.6M682.0,666.00H837.6" stroke="#cecece" stroke-width="1.3" fill="none"/>
<rect x="708.2" y="170.45" width="21.60" height="495.20" fill="#5bb045"/>
<path d="M708.2,187.50H729.8M708.2,204.00H729.8M708.2,220.50H729.8M708.2,237.00H729.8M708.2,253.50H729.8M708.2,270.00H729.8M708.2,286.50H729.8M708.2,303.00H729.8M708.2,319.50H729.8M708.2,336.00H729.8M708.2,352.50H729.8M708.2,369.00H729.8M708.2,385.50H729.8M708.2,402.00H729.8M708.2,418.50H729.8M708.2,435.00H729.8M708.2,451.50H729.8M708.2,468.00H729.8M708.2,484.50H729.8M708.2,501.00H729.8M708.2,517.50H729.8M708.2,534.00H729.8M708.2,550.50H729.8M708.2,567.00H729.8M708.2,583.50H729.8M708.2,600.00H729.8M708.2,616.50H729.8M708.2,633.00H729.8M708.2,649.50H729.8" stroke="#d6f0d0" stroke-width="1.5" fill="none"/>
<rect x="707.9000000000001" y="236.30" width="22.20" height="17.90" fill="#fff"/>
<path d="M707.2,237.00H730.8M707.2,253.50H730.8" stroke="#cecece" stroke-width="1.3" fill="none"/>
<rect x="682.0" y="237.60" width="154.60" height="15.35" fill="#f1c42d"/>
<rect x="707.9000000000001" y="252.80" width="22.20" height="17.90" fill="#fff"/>
<path d="M707.2,253.50H730.8M707.2,270.00H730.8" stroke="#cecece" stroke-width="1.3" fill="none"/>
<rect x="682.0" y="254.10" width="154.60" height="15.35" fill="#f1c42d"/>
<path d="M682.0,253.50H836.6" stroke="#f6dc8a" stroke-width="1.2"/>
<path d="M735.8,222.10V482.90" stroke="#f0905f" stroke-width="3.3" stroke-linecap="round"/>
<path d="M742.0,337.60V598.40" stroke="#a6ce39" stroke-width="2.8" stroke-linecap="round"/>
<path d="M747.8,453.10V664.40" stroke="#42b9c9" stroke-width="2.8" stroke-linecap="round"/>
<text x="685.20" y="184.10" font-size="11.8" fill="#111" stroke="#111" stroke-width="0.5">ME</text>
<text x="719.00" y="184.20" font-size="12.6" fill="#fff" font-weight="700" text-anchor="middle" stroke="#fff" stroke-width="0.25">1</text>
<text x="685.20" y="200.60" font-size="11.8" fill="#111" stroke="#111" stroke-width="0.5">JE</text>
<text x="719.00" y="200.70" font-size="12.6" fill="#fff" font-weight="700" text-anchor="middle" stroke="#fff" stroke-width="0.25">2</text>
<text x="685.20" y="217.10" font-size="11.8" fill="#111" stroke="#111" stroke-width="0.5">VE</text>
<text x="719.00" y="217.20" font-size="12.6" fill="#fff" font-weight="700" text-anchor="middle" stroke="#fff" stroke-width="0.25">3</text>
<text x="685.20" y="233.60" font-size="11.8" fill="#111" font-weight="700" stroke="#111" stroke-width="0.4">SA</text>
<text x="719.00" y="233.70" font-size="12.6" fill="#fff" font-weight="700" text-anchor="middle" stroke="#fff" stroke-width="0.25">4</text>
<text x="685.30" y="250.10" font-size="11.8" fill="#2b2d66" font-weight="700">DI</text>
<text x="719.00" y="250.10" font-size="11.8" fill="#2b2d66" font-weight="700" text-anchor="middle">5</text>
<text x="783.70" y="248.90" font-size="10.3" fill="#2b2d66" font-weight="700" text-anchor="middle" textLength="37.00" lengthAdjust="spacingAndGlyphs">Pâques</text>
<text x="685.30" y="266.60" font-size="11.8" fill="#2b2d66" font-weight="700">LU</text>
<text x="719.00" y="266.60" font-size="11.8" fill="#2b2d66" font-weight="700" text-anchor="middle">6</text>
<text x="783.70" y="265.40" font-size="10.3" fill="#2b2d66" font-weight="700" text-anchor="middle" textLength="83.00" lengthAdjust="spacingAndGlyphs">Lundi de Pâques</text>
<text x="685.20" y="283.10" font-size="11.8" fill="#111" stroke="#111" stroke-width="0.5">MA</text>
<text x="719.00" y="283.20" font-size="12.6" fill="#fff" font-weight="700" text-anchor="middle" stroke="#fff" stroke-width="0.25">7</text>
<text x="834.00" y="283.10" font-size="11.6" fill="#aaaaaa" text-anchor="end" stroke="#aaaaaa" stroke-width="0.55">15</text>
<text x="685.20" y="299.60" font-size="11.8" fill="#111" stroke="#111" stroke-width="0.5">ME</text>
<text x="719.00" y="299.70" font-size="12.6" fill="#fff" font-weight="700" text-anchor="middle" stroke="#fff" stroke-width="0.25">8</text>
<text x="685.20" y="316.10" font-size="11.8" fill="#111" stroke="#111" stroke-width="0.5">JE</text>
<text x="719.00" y="316.20" font-size="12.6" fill="#fff" font-weight="700" text-anchor="middle" stroke="#fff" stroke-width="0.25">9</text>
<text x="685.20" y="332.60" font-size="11.8" fill="#111" stroke="#111" stroke-width="0.5">VE</text>
<text x="719.00" y="332.70" font-size="12.6" fill="#fff" font-weight="700" text-anchor="middle" stroke="#fff" stroke-width="0.25">10</text>
<text x="685.20" y="349.10" font-size="11.8" fill="#111" font-weight="700" stroke="#111" stroke-width="0.4">SA</text>
<text x="719.00" y="349.20" font-size="12.6" fill="#fff" font-weight="700" text-anchor="middle" stroke="#fff" stroke-width="0.25">11</text>
<text x="685.20" y="365.60" font-size="11.8" fill="#111" font-weight="700" stroke="#111" stroke-width="0.4">DI</text>
<text x="719.00" y="365.70" font-size="12.6" fill="#fff" font-weight="700" text-anchor="middle" stroke="#fff" stroke-width="0.25">12</text>
<text x="685.20" y="382.10" font-size="11.8" fill="#111" stroke="#111" stroke-width="0.5">LU</text>
<text x="719.00" y="382.20" font-size="12.6" fill="#fff" font-weight="700" text-anchor="middle" stroke="#fff" stroke-width="0.25">13</text>
<text x="685.20" y="398.60" font-size="11.8" fill="#111" stroke="#111" stroke-width="0.5">MA</text>
<text x="719.00" y="398.70" font-size="12.6" fill="#fff" font-weight="700" text-anchor="middle" stroke="#fff" stroke-width="0.25">14</text>
<text x="834.00" y="398.60" font-size="11.6" fill="#aaaaaa" text-anchor="end" stroke="#aaaaaa" stroke-width="0.55">16</text>
<text x="685.20" y="415.10" font-size="11.8" fill="#111" stroke="#111" stroke-width="0.5">ME</text>
<text x="719.00" y="415.20" font-size="12.6" fill="#fff" font-weight="700" text-anchor="middle" stroke="#fff" stroke-width="0.25">15</text>
<text x="685.20" y="431.60" font-size="11.8" fill="#111" stroke="#111" stroke-width="0.5">JE</text>
<text x="719.00" y="431.70" font-size="12.6" fill="#fff" font-weight="700" text-anchor="middle" stroke="#fff" stroke-width="0.25">16</text>
<text x="685.20" y="448.10" font-size="11.8" fill="#111" stroke="#111" stroke-width="0.5">VE</text>
<text x="719.00" y="448.20" font-size="12.6" fill="#fff" font-weight="700" text-anchor="middle" stroke="#fff" stroke-width="0.25">17</text>
<text x="685.20" y="464.60" font-size="11.8" fill="#111" font-weight="700" stroke="#111" stroke-width="0.4">SA</text>
<text x="719.00" y="464.70" font-size="12.6" fill="#fff" font-weight="700" text-anchor="middle" stroke="#fff" stroke-width="0.25">18</text>
<text x="685.20" y="481.10" font-size="11.8" fill="#111" font-weight="700" stroke="#111" stroke-width="0.4">DI</text>
<text x="719.00" y="481.20" font-size="12.6" fill="#fff" font-weight="700" text-anchor="middle" stroke="#fff" stroke-width="0.25">19</text>
<text x="685.20" y="497.60" font-size="11.8" fill="#111" stroke="#111" stroke-width="0.5">LU</text>
<text x="719.00" y="497.70" font-size="12.6" fill="#fff" font-weight="700" text-anchor="middle" stroke="#fff" stroke-width="0.25">20</text>
<text x="685.20" y="514.10" font-size="11.8" fill="#111" stroke="#111" stroke-width="0.5">MA</text>
<text x="719.00" y="514.20" font-size="12.6" fill="#fff" font-weight="700" text-anchor="middle" stroke="#fff" stroke-width="0.25">21</text>
<text x="834.00" y="514.10" font-size="11.6" fill="#aaaaaa" text-anchor="end" stroke="#aaaaaa" stroke-width="0.55">17</text>
<text x="685.20" y="530.60" font-size="11.8" fill="#111" stroke="#111" stroke-width="0.5">ME</text>
<text x="719.00" y="530.70" font-size="12.6" fill="#fff" font-weight="700" text-anchor="middle" stroke="#fff" stroke-width="0.25">22</text>
<text x="685.20" y="547.10" font-size="11.8" fill="#111" stroke="#111" stroke-width="0.5">JE</text>
<text x="719.00" y="547.20" font-size="12.6" fill="#fff" font-weight="700" text-anchor="middle" stroke="#fff" stroke-width="0.25">23</text>
<text x="685.20" y="563.60" font-size="11.8" fill="#111" stroke="#111" stroke-width="0.5">VE</text>
<text x="719.00" y="563.70" font-size="12.6" fill="#fff" font-weight="700" text-anchor="middle" stroke="#fff" stroke-width="0.25">24</text>
<text x="685.20" y="580.10" font-size="11.8" fill="#111" font-weight="700" stroke="#111" stroke-width="0.4">SA</text>
<text x="719.00" y="580.20" font-size="12.6" fill="#fff" font-weight="700" text-anchor="middle" stroke="#fff" stroke-width="0.25">25</text>
<text x="685.20" y="596.60" font-size="11.8" fill="#111" font-weight="700" stroke="#111" stroke-width="0.4">DI</text>
<text x="719.00" y="596.70" font-size="12.6" fill="#fff" font-weight="700" text-anchor="middle" stroke="#fff" stroke-width="0.25">26</text>
<text x="685.20" y="613.10" font-size="11.8" fill="#111" stroke="#111" stroke-width="0.5">LU</text>
<text x="719.00" y="613.20" font-size="12.6" fill="#fff" font-weight="700" text-anchor="middle" stroke="#fff" stroke-width="0.25">27</text>
<text x="685.20" y="629.60" font-size="11.8" fill="#111" stroke="#111" stroke-width="0.5">MA</text>
<text x="719.00" y="629.70" font-size="12.6" fill="#fff" font-weight="700" text-anchor="middle" stroke="#fff" stroke-width="0.25">28</text>
<text x="834.00" y="629.60" font-size="11.6" fill="#aaaaaa" text-anchor="end" stroke="#aaaaaa" stroke-width="0.55">18</text>
<text x="685.20" y="646.10" font-size="11.8" fill="#111" stroke="#111" stroke-width="0.5">ME</text>
<text x="719.00" y="646.20" font-size="12.6" fill="#fff" font-weight="700" text-anchor="middle" stroke="#fff" stroke-width="0.25">29</text>
<text x="685.20" y="662.60" font-size="11.8" fill="#111" stroke="#111" stroke-width="0.5">JE</text>
<text x="719.00" y="662.70" font-size="12.6" fill="#fff" font-weight="700" text-anchor="middle" stroke="#fff" stroke-width="0.25">30</text>
<text x="924.00" y="165.00" font-size="16.3" fill="#a9cf38" font-weight="700" text-anchor="middle" textLength="30.75" lengthAdjust="spacingAndGlyphs">MAI</text>
<rect x="846.2" y="187.50" width="154.60" height="16.5" fill="#efef80"/>
<rect x="846.2" y="204.00" width="154.60" height="16.5" fill="#efef80"/>
<rect x="846.2" y="303.00" width="154.60" height="16.5" fill="#efef80"/>
<rect x="846.2" y="319.50" width="154.60" height="16.5" fill="#efef80"/>
<rect x="846.2" y="418.50" width="154.60" height="16.5" fill="#efef80"/>
<rect x="846.2" y="435.00" width="154.60" height="16.5" fill="#efef80"/>
<rect x="846.2" y="534.00" width="154.60" height="16.5" fill="#efef80"/>
<rect x="846.2" y="649.50" width="154.60" height="16.5" fill="#efef80"/>
<rect x="846.2" y="666.00" width="154.60" height="16.5" fill="#efef80"/>
<path d="M846.2,171.00H1001.8M846.2,187.50H1001.8M846.2,204.00H1001.8M846.2,220.50H1001.8M846.2,237.00H1001.8M846.2,253.50H1001.8M846.2,270.00H1001.8M846.2,286.50H1001.8M846.2,303.00H1001.8M846.2,319.50H1001.8M846.2,336.00H1001.8M846.2,352.50H1001.8M846.2,369.00H1001.8M846.2,385.50H1001.8M846.2,402.00H1001.8M846.2,418.50H1001.8M846.2,435.00H1001.8M846.2,451.50H1001.8M846.2,468.00H1001.8M846.2,484.50H1001.8M846.2,501.00H1001.8M846.2,517.50H1001.8M846.2,534.00H1001.8M846.2,550.50H1001.8M846.2,567.00H1001.8M846.2,583.50H1001.8M846.2,600.00H1001.8M846.2,616.50H1001.8M846.2,633.00H1001.8M846.2,649.50H1001.8M846.2,666.00H1001.8M846.2,682.50H1001.8" stroke="#cecece" stroke-width="1.3" fill="none"/>
<rect x="872.2" y="170.45" width="21.60" height="511.70" fill="#a9cf38"/>
<path d="M872.2,187.50H893.8M872.2,204.00H893.8M872.2,220.50H893.8M872.2,237.00H893.8M872.2,253.50H893.8M872.2,270.00H893.8M872.2,286.50H893.8M872.2,303.00H893.8M872.2,319.50H893.8M872.2,336.00H893.8M872.2,352.50H893.8M872.2,369.00H893.8M872.2,385.50H893.8M872.2,402.00H893.8M872.2,418.50H893.8M872.2,435.00H893.8M872.2,451.50H893.8M872.2,468.00H893.8M872.2,484.50H893.8M872.2,501.00H893.8M872.2,517.50H893.8M872.2,534.00H893.8M872.2,550.50H893.8M872.2,567.00H893.8M872.2,583.50H893.8M872.2,600.00H893.8M872.2,616.50H893.8M872.2,633.00H893.8M872.2,649.50H893.8M872.2,666.00H893.8" stroke="#e3f0a0" stroke-width="1.5" fill="none"/>
<rect x="871.9000000000001" y="170.30" width="22.20" height="17.90" fill="#fff"/>
<path d="M871.2,171.00H894.8M871.2,187.50H894.8" stroke="#cecece" stroke-width="1.3" fill="none"/>
<rect x="846.2" y="171.60" width="154.60" height="15.35" fill="#f1c42d"/>
<rect x="871.9000000000001" y="285.80" width="22.20" height="17.90" fill="#fff"/>
<path d="M871.2,286.50H894.8M871.2,303.00H894.8" stroke="#cecece" stroke-width="1.3" fill="none"/>
<rect x="846.2" y="287.10" width="154.60" height="15.35" fill="#f1c42d"/>
<rect x="871.9000000000001" y="384.80" width="22.20" height="17.90" fill="#fff"/>
<path d="M871.2,385.50H894.8M871.2,402.00H894.8" stroke="#cecece" stroke-width="1.3" fill="none"/>
<rect x="846.2" y="386.10" width="154.60" height="15.35" fill="#f1c42d"/>
<rect x="871.9000000000001" y="549.80" width="22.20" height="17.90" fill="#fff"/>
<path d="M871.2,550.50H894.8M871.2,567.00H894.8" stroke="#cecece" stroke-width="1.3" fill="none"/>
<rect x="846.2" y="551.10" width="154.60" height="15.35" fill="#f1c42d"/>
<rect x="871.9000000000001" y="566.30" width="22.20" height="17.90" fill="#fff"/>
<path d="M871.2,567.00H894.8M871.2,583.50H894.8" stroke="#cecece" stroke-width="1.3" fill="none"/>
<rect x="846.2" y="567.60" width="154.60" height="15.35" fill="#f1c42d"/>
<path d="M846.2,567.00H1000.8" stroke="#f6dc8a" stroke-width="1.2"/>
<path d="M899.7,172.60V218.90" stroke="#42b9c9" stroke-width="3.1" stroke-linecap="round"/>
<path d="M900.0,387.10V449.90" stroke="#f0905f" stroke-width="2.8" stroke-linecap="round"/>
<path d="M904.5,387.10V449.90" stroke="#a6ce39" stroke-width="2.6" stroke-linecap="round"/>
<path d="M908.8,387.10V449.90" stroke="#42b9c9" stroke-width="2.6" stroke-linecap="round"/>
<text x="849.50" y="184.10" font-size="11.8" fill="#2b2d66" font-weight="700">VE</text>
<text x="883.00" y="184.10" font-size="11.8" fill="#2b2d66" font-weight="700" text-anchor="middle">1</text>
<text x="947.80" y="182.90" font-size="10.3" fill="#2b2d66" font-weight="700" text-anchor="middle" textLength="74.50" lengthAdjust="spacingAndGlyphs">Fête du travail</text>
<text x="849.40" y="200.60" font-size="11.8" fill="#111" font-weight="700" stroke="#111" stroke-width="0.4">SA</text>
<text x="883.00" y="200.70" font-size="12.6" fill="#fff" font-weight="700" text-anchor="middle" stroke="#fff" stroke-width="0.25">2</text>
<text x="849.40" y="217.10" font-size="11.8" fill="#111" font-weight="700" stroke="#111" stroke-width="0.4">DI</text>
<text x="883.00" y="217.20" font-size="12.6" fill="#fff" font-weight="700" text-anchor="middle" stroke="#fff" stroke-width="0.25">3</text>
<text x="849.40" y="233.60" font-size="11.8" fill="#111" stroke="#111" stroke-width="0.5">LU</text>
<text x="883.00" y="233.70" font-size="12.6" fill="#fff" font-weight="700" text-anchor="middle" stroke="#fff" stroke-width="0.25">4</text>
<text x="849.40" y="250.10" font-size="11.8" fill="#111" stroke="#111" stroke-width="0.5">MA</text>
<text x="883.00" y="250.20" font-size="12.6" fill="#fff" font-weight="700" text-anchor="middle" stroke="#fff" stroke-width="0.25">5</text>
<text x="998.20" y="250.10" font-size="11.6" fill="#aaaaaa" text-anchor="end" stroke="#aaaaaa" stroke-width="0.55">19</text>
<text x="849.40" y="266.60" font-size="11.8" fill="#111" stroke="#111" stroke-width="0.5">ME</text>
<text x="883.00" y="266.70" font-size="12.6" fill="#fff" font-weight="700" text-anchor="middle" stroke="#fff" stroke-width="0.25">6</text>
<text x="849.40" y="283.10" font-size="11.8" fill="#111" stroke="#111" stroke-width="0.5">JE</text>
<text x="883.00" y="283.20" font-size="12.6" fill="#fff" font-weight="700" text-anchor="middle" stroke="#fff" stroke-width="0.25">7</text>
<text x="849.50" y="299.60" font-size="11.8" fill="#2b2d66" font-weight="700">VE</text>
<text x="883.00" y="299.60" font-size="11.8" fill="#2b2d66" font-weight="700" text-anchor="middle">8</text>
<text x="947.80" y="298.40" font-size="10.3" fill="#2b2d66" font-weight="700" text-anchor="middle" textLength="64.50" lengthAdjust="spacingAndGlyphs">Victoire 1945</text>
<text x="849.40" y="316.10" font-size="11.8" fill="#111" font-weight="700" stroke="#111" stroke-width="0.4">SA</text>
<text x="883.00" y="316.20" font-size="12.6" fill="#fff" font-weight="700" text-anchor="middle" stroke="#fff" stroke-width="0.25">9</text>
<text x="849.40" y="332.60" font-size="11.8" fill="#111" font-weight="700" stroke="#111" stroke-width="0.4">DI</text>
<text x="883.00" y="332.70" font-size="12.6" fill="#fff" font-weight="700" text-anchor="middle" stroke="#fff" stroke-width="0.25">10</text>
<text x="849.40" y="349.10" font-size="11.8" fill="#111" stroke="#111" stroke-width="0.5">LU</text>
<text x="883.00" y="349.20" font-size="12.6" fill="#fff" font-weight="700" text-anchor="middle" stroke="#fff" stroke-width="0.25">11</text>
<text x="849.40" y="365.60" font-size="11.8" fill="#111" stroke="#111" stroke-width="0.5">MA</text>
<text x="883.00" y="365.70" font-size="12.6" fill="#fff" font-weight="700" text-anchor="middle" stroke="#fff" stroke-width="0.25">12</text>
<text x="998.20" y="365.60" font-size="11.6" fill="#aaaaaa" text-anchor="end" stroke="#aaaaaa" stroke-width="0.55">20</text>
<text x="849.40" y="382.10" font-size="11.8" fill="#111" stroke="#111" stroke-width="0.5">ME</text>
<text x="883.00" y="382.20" font-size="12.6" fill="#fff" font-weight="700" text-anchor="middle" stroke="#fff" stroke-width="0.25">13</text>
<text x="849.50" y="398.60" font-size="11.8" fill="#2b2d66" font-weight="700">JE</text>
<text x="883.00" y="398.60" font-size="11.8" fill="#2b2d66" font-weight="700" text-anchor="middle">14</text>
<text x="947.80" y="397.40" font-size="10.3" fill="#2b2d66" font-weight="700" text-anchor="middle" textLength="52.00" lengthAdjust="spacingAndGlyphs">Ascension</text>
<text x="849.40" y="415.10" font-size="11.8" fill="#111" stroke="#111" stroke-width="0.5">VE</text>
<text x="883.00" y="415.20" font-size="12.6" fill="#fff" font-weight="700" text-anchor="middle" stroke="#fff" stroke-width="0.25">15</text>
<text x="849.40" y="431.60" font-size="11.8" fill="#111" font-weight="700" stroke="#111" stroke-width="0.4">SA</text>
<text x="883.00" y="431.70" font-size="12.6" fill="#fff" font-weight="700" text-anchor="middle" stroke="#fff" stroke-width="0.25">16</text>
<text x="849.40" y="448.10" font-size="11.8" fill="#111" font-weight="700" stroke="#111" stroke-width="0.4">DI</text>
<text x="883.00" y="448.20" font-size="12.6" fill="#fff" font-weight="700" text-anchor="middle" stroke="#fff" stroke-width="0.25">17</text>
<text x="849.40" y="464.60" font-size="11.8" fill="#111" stroke="#111" stroke-width="0.5">LU</text>
<text x="883.00" y="464.70" font-size="12.6" fill="#fff" font-weight="700" text-anchor="middle" stroke="#fff" stroke-width="0.25">18</text>
<text x="849.40" y="481.10" font-size="11.8" fill="#111" stroke="#111" stroke-width="0.5">MA</text>
<text x="883.00" y="481.20" font-size="12.6" fill="#fff" font-weight="700" text-anchor="middle" stroke="#fff" stroke-width="0.25">19</text>
<text x="998.20" y="481.10" font-size="11.6" fill="#aaaaaa" text-anchor="end" stroke="#aaaaaa" stroke-width="0.55">21</text>
<text x="849.40" y="497.60" font-size="11.8" fill="#111" stroke="#111" stroke-width="0.5">ME</text>
<text x="883.00" y="497.70" font-size="12.6" fill="#fff" font-weight="700" text-anchor="middle" stroke="#fff" stroke-width="0.25">20</text>
<text x="849.40" y="514.10" font-size="11.8" fill="#111" stroke="#111" stroke-width="0.5">JE</text>
<text x="883.00" y="514.20" font-size="12.6" fill="#fff" font-weight="700" text-anchor="middle" stroke="#fff" stroke-width="0.25">21</text>
<text x="849.40" y="530.60" font-size="11.8" fill="#111" stroke="#111" stroke-width="0.5">VE</text>
<text x="883.00" y="530.70" font-size="12.6" fill="#fff" font-weight="700" text-anchor="middle" stroke="#fff" stroke-width="0.25">22</text>
<text x="849.40" y="547.10" font-size="11.8" fill="#111" font-weight="700" stroke="#111" stroke-width="0.4">SA</text>
<text x="883.00" y="547.20" font-size="12.6" fill="#fff" font-weight="700" text-anchor="middle" stroke="#fff" stroke-width="0.25">23</text>
<text x="849.50" y="563.60" font-size="11.8" fill="#2b2d66" font-weight="700">DI</text>
<text x="883.00" y="563.60" font-size="11.8" fill="#2b2d66" font-weight="700" text-anchor="middle">24</text>
<text x="947.80" y="562.40" font-size="10.3" fill="#2b2d66" font-weight="700" text-anchor="middle" textLength="54.00" lengthAdjust="spacingAndGlyphs">Pentecôte</text>
<text x="849.50" y="580.10" font-size="11.8" fill="#2b2d66" font-weight="700">LU</text>
<text x="883.00" y="580.10" font-size="11.8" fill="#2b2d66" font-weight="700" text-anchor="middle">25</text>
<text x="947.80" y="578.90" font-size="10.3" fill="#2b2d66" font-weight="700" text-anchor="middle" textLength="100.00" lengthAdjust="spacingAndGlyphs">Lundi de Pentecôte</text>
<text x="849.40" y="596.60" font-size="11.8" fill="#111" stroke="#111" stroke-width="0.5">MA</text>
<text x="883.00" y="596.70" font-size="12.6" fill="#fff" font-weight="700" text-anchor="middle" stroke="#fff" stroke-width="0.25">26</text>
<text x="998.20" y="596.60" font-size="11.6" fill="#aaaaaa" text-anchor="end" stroke="#aaaaaa" stroke-width="0.55">22</text>
<text x="849.40" y="613.10" font-size="11.8" fill="#111" stroke="#111" stroke-width="0.5">ME</text>
<text x="883.00" y="613.20" font-size="12.6" fill="#fff" font-weight="700" text-anchor="middle" stroke="#fff" stroke-width="0.25">27</text>
<text x="849.40" y="629.60" font-size="11.8" fill="#111" stroke="#111" stroke-width="0.5">JE</text>
<text x="883.00" y="629.70" font-size="12.6" fill="#fff" font-weight="700" text-anchor="middle" stroke="#fff" stroke-width="0.25">28</text>
<text x="849.40" y="646.10" font-size="11.8" fill="#111" stroke="#111" stroke-width="0.5">VE</text>
<text x="883.00" y="646.20" font-size="12.6" fill="#fff" font-weight="700" text-anchor="middle" stroke="#fff" stroke-width="0.25">29</text>
<text x="849.40" y="662.60" font-size="11.8" fill="#111" font-weight="700" stroke="#111" stroke-width="0.4">SA</text>
<text x="883.00" y="662.70" font-size="12.6" fill="#fff" font-weight="700" text-anchor="middle" stroke="#fff" stroke-width="0.25">30</text>
<text x="849.40" y="679.10" font-size="11.8" fill="#111" font-weight="700" stroke="#111" stroke-width="0.4">DI</text>
<text x="883.00" y="679.20" font-size="12.6" fill="#fff" font-weight="700" text-anchor="middle" stroke="#fff" stroke-width="0.25">31</text>
<text x="1088.10" y="165.00" font-size="16.3" fill="#f9b21c" font-weight="700" text-anchor="middle" textLength="39.25" lengthAdjust="spacingAndGlyphs">JUIN</text>
<rect x="1010.4" y="253.50" width="154.40" height="16.5" fill="#fdf6dc"/>
<rect x="1010.4" y="270.00" width="154.40" height="16.5" fill="#fdf6dc"/>
<rect x="1010.4" y="369.00" width="154.40" height="16.5" fill="#fdf6dc"/>
<rect x="1010.4" y="385.50" width="154.40" height="16.5" fill="#fdf6dc"/>
<rect x="1010.4" y="484.50" width="154.40" height="16.5" fill="#fdf6dc"/>
<rect x="1010.4" y="501.00" width="154.40" height="16.5" fill="#fdf6dc"/>
<rect x="1010.4" y="600.00" width="154.40" height="16.5" fill="#fdf6dc"/>
<rect x="1010.4" y="616.50" width="154.40" height="16.5" fill="#fdf6dc"/>
<path d="M1010.4,171.00H1165.8M1010.4,187.50H1165.8M1010.4,204.00H1165.8M1010.4,220.50H1165.8M1010.4,237.00H1165.8M1010.4,253.50H1165.8M1010.4,270.00H1165.8M1010.4,286.50H1165.8M1010.4,303.00H1165.8M1010.4,319.50H1165.8M1010.4,336.00H1165.8M1010.4,352.50H1165.8M1010.4,369.00H1165.8M1010.4,385.50H1165.8M1010.4,402.00H1165.8M1010.4,418.50H1165.8M1010.4,435.00H1165.8M1010.4,451.50H1165.8M1010.4,468.00H1165.8M1010.4,484.50H1165.8M1010.4,501.00H1165.8M1010.4,517.50H1165.8M1010.4,534.00H1165.8M1010.4,550.50H1165.8M1010.4,567.00H1165.8M1010.4,583.50H1165.8M1010.4,600.00H1165.8M1010.4,616.50H1165.8M1010.4,633.00H1165.8M1010.4,649.50H1165.8M1010.4,666.00H1165.8" stroke="#cecece" stroke-width="1.3" fill="none"/>
<rect x="1037.4" y="170.45" width="20.50" height="495.20" fill="#f9b21c"/>
<path d="M1037.4,187.50H1057.9M1037.4,204.00H1057.9M1037.4,220.50H1057.9M1037.4,237.00H1057.9M1037.4,253.50H1057.9M1037.4,270.00H1057.9M1037.4,286.50H1057.9M1037.4,303.00H1057.9M1037.4,319.50H1057.9M1037.4,336.00H1057.9M1037.4,352.50H1057.9M1037.4,369.00H1057.9M1037.4,385.50H1057.9M1037.4,402.00H1057.9M1037.4,418.50H1057.9M1037.4,435.00H1057.9M1037.4,451.50H1057.9M1037.4,468.00H1057.9M1037.4,484.50H1057.9M1037.4,501.00H1057.9M1037.4,517.50H1057.9M1037.4,534.00H1057.9M1037.4,550.50H1057.9M1037.4,567.00H1057.9M1037.4,583.50H1057.9M1037.4,600.00H1057.9M1037.4,616.50H1057.9M1037.4,633.00H1057.9M1037.4,649.50H1057.9" stroke="#fcdc9c" stroke-width="1.5" fill="none"/>
<text x="1013.60" y="184.10" font-size="11.8" fill="#111" stroke="#111" stroke-width="0.5">LU</text>
<text x="1047.65" y="184.20" font-size="12.6" fill="#fff" font-weight="700" text-anchor="middle" stroke="#fff" stroke-width="0.25">1</text>
<text x="1013.60" y="200.60" font-size="11.8" fill="#111" stroke="#111" stroke-width="0.5">MA</text>
<text x="1047.65" y="200.70" font-size="12.6" fill="#fff" font-weight="700" text-anchor="middle" stroke="#fff" stroke-width="0.25">2</text>
<text x="1162.20" y="200.60" font-size="11.6" fill="#aaaaaa" text-anchor="end" stroke="#aaaaaa" stroke-width="0.55">23</text>
<text x="1013.60" y="217.10" font-size="11.8" fill="#111" stroke="#111" stroke-width="0.5">ME</text>
<text x="1047.65" y="217.20" font-size="12.6" fill="#fff" font-weight="700" text-anchor="middle" stroke="#fff" stroke-width="0.25">3</text>
<text x="1013.60" y="233.60" font-size="11.8" fill="#111" stroke="#111" stroke-width="0.5">JE</text>
<text x="1047.65" y="233.70" font-size="12.6" fill="#fff" font-weight="700" text-anchor="middle" stroke="#fff" stroke-width="0.25">4</text>
<text x="1013.60" y="250.10" font-size="11.8" fill="#111" stroke="#111" stroke-width="0.5">VE</text>
<text x="1047.65" y="250.20" font-size="12.6" fill="#fff" font-weight="700" text-anchor="middle" stroke="#fff" stroke-width="0.25">5</text>
<text x="1013.60" y="266.60" font-size="11.8" fill="#111" font-weight="700" stroke="#111" stroke-width="0.4">SA</text>
<text x="1047.65" y="266.70" font-size="12.6" fill="#fff" font-weight="700" text-anchor="middle" stroke="#fff" stroke-width="0.25">6</text>
<text x="1013.60" y="283.10" font-size="11.8" fill="#111" font-weight="700" stroke="#111" stroke-width="0.4">DI</text>
<text x="1047.65" y="283.20" font-size="12.6" fill="#fff" font-weight="700" text-anchor="middle" stroke="#fff" stroke-width="0.25">7</text>
<text x="1013.60" y="299.60" font-size="11.8" fill="#111" stroke="#111" stroke-width="0.5">LU</text>
<text x="1047.65" y="299.70" font-size="12.6" fill="#fff" font-weight="700" text-anchor="middle" stroke="#fff" stroke-width="0.25">8</text>
<text x="1013.60" y="316.10" font-size="11.8" fill="#111" stroke="#111" stroke-width="0.5">MA</text>
<text x="1047.65" y="316.20" font-size="12.6" fill="#fff" font-weight="700" text-anchor="middle" stroke="#fff" stroke-width="0.25">9</text>
<text x="1162.20" y="316.10" font-size="11.6" fill="#aaaaaa" text-anchor="end" stroke="#aaaaaa" stroke-width="0.55">24</text>
<text x="1013.60" y="332.60" font-size="11.8" fill="#111" stroke="#111" stroke-width="0.5">ME</text>
<text x="1047.65" y="332.70" font-size="12.6" fill="#fff" font-weight="700" text-anchor="middle" stroke="#fff" stroke-width="0.25">10</text>
<text x="1013.60" y="349.10" font-size="11.8" fill="#111" stroke="#111" stroke-width="0.5">JE</text>
<text x="1047.65" y="349.20" font-size="12.6" fill="#fff" font-weight="700" text-anchor="middle" stroke="#fff" stroke-width="0.25">11</text>
<text x="1013.60" y="365.60" font-size="11.8" fill="#111" stroke="#111" stroke-width="0.5">VE</text>
<text x="1047.65" y="365.70" font-size="12.6" fill="#fff" font-weight="700" text-anchor="middle" stroke="#fff" stroke-width="0.25">12</text>
<text x="1013.60" y="382.10" font-size="11.8" fill="#111" font-weight="700" stroke="#111" stroke-width="0.4">SA</text>
<text x="1047.65" y="382.20" font-size="12.6" fill="#fff" font-weight="700" text-anchor="middle" stroke="#fff" stroke-width="0.25">13</text>
<text x="1013.60" y="398.60" font-size="11.8" fill="#111" font-weight="700" stroke="#111" stroke-width="0.4">DI</text>
<text x="1047.65" y="398.70" font-size="12.6" fill="#fff" font-weight="700" text-anchor="middle" stroke="#fff" stroke-width="0.25">14</text>
<text x="1013.60" y="415.10" font-size="11.8" fill="#111" stroke="#111" stroke-width="0.5">LU</text>
<text x="1047.65" y="415.20" font-size="12.6" fill="#fff" font-weight="700" text-anchor="middle" stroke="#fff" stroke-width="0.25">15</text>
<text x="1013.60" y="431.60" font-size="11.8" fill="#111" stroke="#111" stroke-width="0.5">MA</text>
<text x="1047.65" y="431.70" font-size="12.6" fill="#fff" font-weight="700" text-anchor="middle" stroke="#fff" stroke-width="0.25">16</text>
<text x="1162.20" y="431.60" font-size="11.6" fill="#aaaaaa" text-anchor="end" stroke="#aaaaaa" stroke-width="0.55">25</text>
<text x="1013.60" y="448.10" font-size="11.8" fill="#111" stroke="#111" stroke-width="0.5">ME</text>
<text x="1047.65" y="448.20" font-size="12.6" fill="#fff" font-weight="700" text-anchor="middle" stroke="#fff" stroke-width="0.25">17</text>
<text x="1013.60" y="464.60" font-size="11.8" fill="#111" stroke="#111" stroke-width="0.5">JE</text>
<text x="1047.65" y="464.70" font-size="12.6" fill="#fff" font-weight="700" text-anchor="middle" stroke="#fff" stroke-width="0.25">18</text>
<text x="1013.60" y="481.10" font-size="11.8" fill="#111" stroke="#111" stroke-width="0.5">VE</text>
<text x="1047.65" y="481.20" font-size="12.6" fill="#fff" font-weight="700" text-anchor="middle" stroke="#fff" stroke-width="0.25">19</text>
<text x="1013.60" y="497.60" font-size="11.8" fill="#111" font-weight="700" stroke="#111" stroke-width="0.4">SA</text>
<text x="1047.65" y="497.70" font-size="12.6" fill="#fff" font-weight="700" text-anchor="middle" stroke="#fff" stroke-width="0.25">20</text>
<text x="1013.60" y="514.10" font-size="11.8" fill="#111" font-weight="700" stroke="#111" stroke-width="0.4">DI</text>
<text x="1047.65" y="514.20" font-size="12.6" fill="#fff" font-weight="700" text-anchor="middle" stroke="#fff" stroke-width="0.25">21</text>
<text x="1013.60" y="530.60" font-size="11.8" fill="#111" stroke="#111" stroke-width="0.5">LU</text>
<text x="1047.65" y="530.70" font-size="12.6" fill="#fff" font-weight="700" text-anchor="middle" stroke="#fff" stroke-width="0.25">22</text>
<text x="1013.60" y="547.10" font-size="11.8" fill="#111" stroke="#111" stroke-width="0.5">MA</text>
<text x="1047.65" y="547.20" font-size="12.6" fill="#fff" font-weight="700" text-anchor="middle" stroke="#fff" stroke-width="0.25">23</text>
<text x="1162.20" y="547.10" font-size="11.6" fill="#aaaaaa" text-anchor="end" stroke="#aaaaaa" stroke-width="0.55">26</text>
<text x="1013.60" y="563.60" font-size="11.8" fill="#111" stroke="#111" stroke-width="0.5">ME</text>
<text x="1047.65" y="563.70" font-size="12.6" fill="#fff" font-weight="700" text-anchor="middle" stroke="#fff" stroke-width="0.25">24</text>
<text x="1013.60" y="580.10" font-size="11.8" fill="#111" stroke="#111" stroke-width="0.5">JE</text>
<text x="1047.65" y="580.20" font-size="12.6" fill="#fff" font-weight="700" text-anchor="middle" stroke="#fff" stroke-width="0.25">25</text>
<text x="1013.60" y="596.60" font-size="11.8" fill="#111" stroke="#111" stroke-width="0.5">VE</text>
<text x="1047.65" y="596.70" font-size="12.6" fill="#fff" font-weight="700" text-anchor="middle" stroke="#fff" stroke-width="0.25">26</text>
<text x="1013.60" y="613.10" font-size="11.8" fill="#111" font-weight="700" stroke="#111" stroke-width="0.4">SA</text>
<text x="1047.65" y="613.20" font-size="12.6" fill="#fff" font-weight="700" text-anchor="middle" stroke="#fff" stroke-width="0.25">27</text>
<text x="1013.60" y="629.60" font-size="11.8" fill="#111" font-weight="700" stroke="#111" stroke-width="0.4">DI</text>
<text x="1047.65" y="629.70" font-size="12.6" fill="#fff" font-weight="700" text-anchor="middle" stroke="#fff" stroke-width="0.25">28</text>
<text x="1013.60" y="646.10" font-size="11.8" fill="#111" stroke="#111" stroke-width="0.5">LU</text>
<text x="1047.65" y="646.20" font-size="12.6" fill="#fff" font-weight="700" text-anchor="middle" stroke="#fff" stroke-width="0.25">29</text>
<text x="1013.60" y="662.60" font-size="11.8" fill="#111" stroke="#111" stroke-width="0.5">MA</text>
<text x="1047.65" y="662.70" font-size="12.6" fill="#fff" font-weight="700" text-anchor="middle" stroke="#fff" stroke-width="0.25">30</text>
<text x="1162.20" y="662.60" font-size="11.6" fill="#aaaaaa" text-anchor="end" stroke="#aaaaaa" stroke-width="0.55">27</text>
<path d="M184.5,688V740" stroke="#c9c9c9" stroke-width="1" stroke-dasharray="1 2"/>
<path d="M348,688V740" stroke="#c9c9c9" stroke-width="1" stroke-dasharray="1 2"/>
<path d="M512.5,688V740" stroke="#c9c9c9" stroke-width="1" stroke-dasharray="1 2"/>
<path d="M676.5,688V740" stroke="#c9c9c9" stroke-width="1" stroke-dasharray="1 2"/>
<path d="M840.5,688V740" stroke="#c9c9c9" stroke-width="1" stroke-dasharray="1 2"/>
<path d="M1004.5,688V740" stroke="#c9c9c9" stroke-width="1" stroke-dasharray="1 2"/>
<text x="102.00" y="703.00" font-size="10.6" fill="#3a4da0" font-weight="700" text-anchor="middle" font-style="italic" textLength="156.00" lengthAdjust="spacingAndGlyphs" stroke="#3a4da0" stroke-width="0.25">Je peux conserver 5 CP maxi</text>
<text x="102.00" y="714.90" font-size="10.6" fill="#3a4da0" font-weight="700" text-anchor="middle" font-style="italic" textLength="156.00" lengthAdjust="spacingAndGlyphs" stroke="#3a4da0" stroke-width="0.25">et le reste de jours (JATT/</text>
<text x="102.00" y="726.80" font-size="10.6" fill="#3a4da0" font-weight="700" text-anchor="middle" font-style="italic" textLength="156.00" lengthAdjust="spacingAndGlyphs" stroke="#3a4da0" stroke-width="0.25">JR/CP) doit être placé sur le</text>
<text x="102.00" y="738.70" font-size="10.6" fill="#3a4da0" font-weight="700" text-anchor="middle" font-style="italic" textLength="55.00" lengthAdjust="spacingAndGlyphs" stroke="#3a4da0" stroke-width="0.25">CET/CETR</text>
<text x="267.00" y="713.40" font-size="10.6" fill="#3a86cc" font-weight="700" text-anchor="middle" font-style="italic" textLength="111.20" lengthAdjust="spacingAndGlyphs" stroke="#3a86cc" stroke-width="0.25">Paiement des heures</text>
<text x="267.00" y="725.30" font-size="10.6" fill="#3a86cc" font-weight="700" text-anchor="middle" font-style="italic" textLength="90.00" lengthAdjust="spacingAndGlyphs" stroke="#3a86cc" stroke-width="0.25">supplémentaires</text>
<text x="430.40" y="719.50" font-size="10.6" fill="#1fa3d6" font-weight="700" text-anchor="middle" font-style="italic" textLength="120.70" lengthAdjust="spacingAndGlyphs" stroke="#1fa3d6" stroke-width="0.25">Paiement 10ème de CP</text>
<text x="593.20" y="708.40" font-size="10.6" fill="#2ba583" font-weight="700" text-anchor="middle" font-style="italic" textLength="147.60" lengthAdjust="spacingAndGlyphs" stroke="#2ba583" stroke-width="0.25">Paiement prime de mobilité</text>
<text x="593.20" y="720.10" font-size="10.6" fill="#2ba583" font-weight="700" text-anchor="middle" font-style="italic" textLength="41.00" lengthAdjust="spacingAndGlyphs" stroke="#2ba583" stroke-width="0.25">durable</text>
<text x="593.20" y="731.80" font-size="10.6" fill="#2ba583" font-weight="700" text-anchor="middle" font-style="italic" textLength="128.70" lengthAdjust="spacingAndGlyphs" stroke="#2ba583" stroke-width="0.25">Augmentation Générale</text>
<text x="759.80" y="707.90" font-size="10.6" fill="#5bb045" font-weight="700" text-anchor="middle" font-style="italic" textLength="122.30" lengthAdjust="spacingAndGlyphs" stroke="#5bb045" stroke-width="0.25">Placement de prime de</text>
<text x="759.80" y="719.70" font-size="10.6" fill="#5bb045" font-weight="700" text-anchor="middle" font-style="italic" textLength="96.00" lengthAdjust="spacingAndGlyphs" stroke="#5bb045" stroke-width="0.25">vacances sur CET</text>
<text x="759.80" y="731.50" font-size="10.6" fill="#5bb045" font-weight="700" text-anchor="middle" font-style="italic" textLength="117.00" lengthAdjust="spacingAndGlyphs" stroke="#5bb045" stroke-width="0.25">Versement de la P3CO</text>
<text x="925.30" y="701.50" font-size="10.6" fill="#a9cf38" font-weight="700" text-anchor="middle" font-style="italic" textLength="84.00" lengthAdjust="spacingAndGlyphs" stroke="#a9cf38" stroke-width="0.25">Participation et</text>
<text x="925.30" y="713.40" font-size="10.6" fill="#a9cf38" font-weight="700" text-anchor="middle" font-style="italic" textLength="84.00" lengthAdjust="spacingAndGlyphs" stroke="#a9cf38" stroke-width="0.25">l’intéressement</text>
<text x="925.30" y="725.30" font-size="10.6" fill="#a9cf38" font-weight="700" text-anchor="middle" font-style="italic" textLength="135.30" lengthAdjust="spacingAndGlyphs" stroke="#a9cf38" stroke-width="0.25">Pensez aux abondements</text>
<text x="925.30" y="737.20" font-size="10.6" fill="#a9cf38" font-weight="700" text-anchor="middle" font-style="italic" textLength="87.00" lengthAdjust="spacingAndGlyphs" stroke="#a9cf38" stroke-width="0.25">PEG et PERECOL</text>
<text x="1088.40" y="713.40" font-size="10.6" fill="#f9a826" font-weight="700" text-anchor="middle" font-style="italic" textLength="157.50" lengthAdjust="spacingAndGlyphs" stroke="#f9a826" stroke-width="0.25">Je solde mes congés reportés</text>
<text x="1088.40" y="725.30" font-size="10.6" fill="#f9a826" font-weight="700" text-anchor="middle" font-style="italic" textLength="93.00" lengthAdjust="spacingAndGlyphs" stroke="#f9a826" stroke-width="0.25">de l’année passée</text>
<text x="18.80" y="756.20" font-size="10.2" fill="#2e4a9e" font-weight="700" font-style="italic" textLength="375.50" lengthAdjust="spacingAndGlyphs">*En fonction de la négociation annuelle obligatoire, sous réserve d’accord.</text>
<text x="397.50" y="756.20" font-size="10.2" fill="#2e4a9e" font-weight="700" textLength="76.50" lengthAdjust="spacingAndGlyphs">Précision JATT </text>
<path d="M397.5,757.8H474.3" stroke="#2e4a9e" stroke-width="0.8"/>
<text x="475.80" y="756.20" font-size="10.2" fill="#2e4a9e" font-weight="700" textLength="209.40" lengthAdjust="spacingAndGlyphs">= jour de repos, récupération chez Fidelia.</text>
<path d="M19,777H44" stroke="#f0905f" stroke-width="4" stroke-linecap="round"/>
<path d="M19,790H44" stroke="#a6ce39" stroke-width="4" stroke-linecap="round"/>
<path d="M19,802.5H44" stroke="#42b9c9" stroke-width="4" stroke-linecap="round"/>
<text x="51.80" y="780.20" font-size="13.4" fill="#1d1d1b" textLength="555.00" lengthAdjust="spacingAndGlyphs">Zone A : Besançon, Bordeaux, Clermont-Ferrand, Grenoble, Dijon, Poitiers, Limoges, Lyon</text>
<text x="51.80" y="793.20" font-size="13.4" fill="#1d1d1b" textLength="736.30" lengthAdjust="spacingAndGlyphs">Zone B : Aix-Marseille, Amiens, Lille, Nice, Orléans-Tours, Reims, Rouen, Strasbourg, Nancy-Metz, Caen, Nantes, Rennes</text>
<text x="51.80" y="806.20" font-size="13.4" fill="#1d1d1b" textLength="341.50" lengthAdjust="spacingAndGlyphs">Zone C : Créteil, Paris, Versailles, Toulouse, Montpellier (</text>
<text x="394.50" y="806.20" font-size="13.2" fill="#1d1d1b" font-weight="700" font-style="italic" textLength="367.50" lengthAdjust="spacingAndGlyphs">dates communiquées sous réserve de modification éventuelle</text>
<text x="762.80" y="806.20" font-size="13.4" fill="#1d1d1b">)</text>
<text x="17.60" y="827.00" font-size="18.6" fill="#f9c72e" font-weight="700" textLength="276.00" lengthAdjust="spacingAndGlyphs" stroke="#f9c72e" stroke-width="0.5">contact@cftc-covea-france.fr</text>
<text x="1000.60" y="822.20" font-size="76" fill="#ffffff" font-weight="700" textLength="177.60" lengthAdjust="spacingAndGlyphs" fill-opacity="0.15"stroke="#3449a0" stroke-width="1.05" stroke-linejoin="round">2026</text>
</svg>
</body></html>
